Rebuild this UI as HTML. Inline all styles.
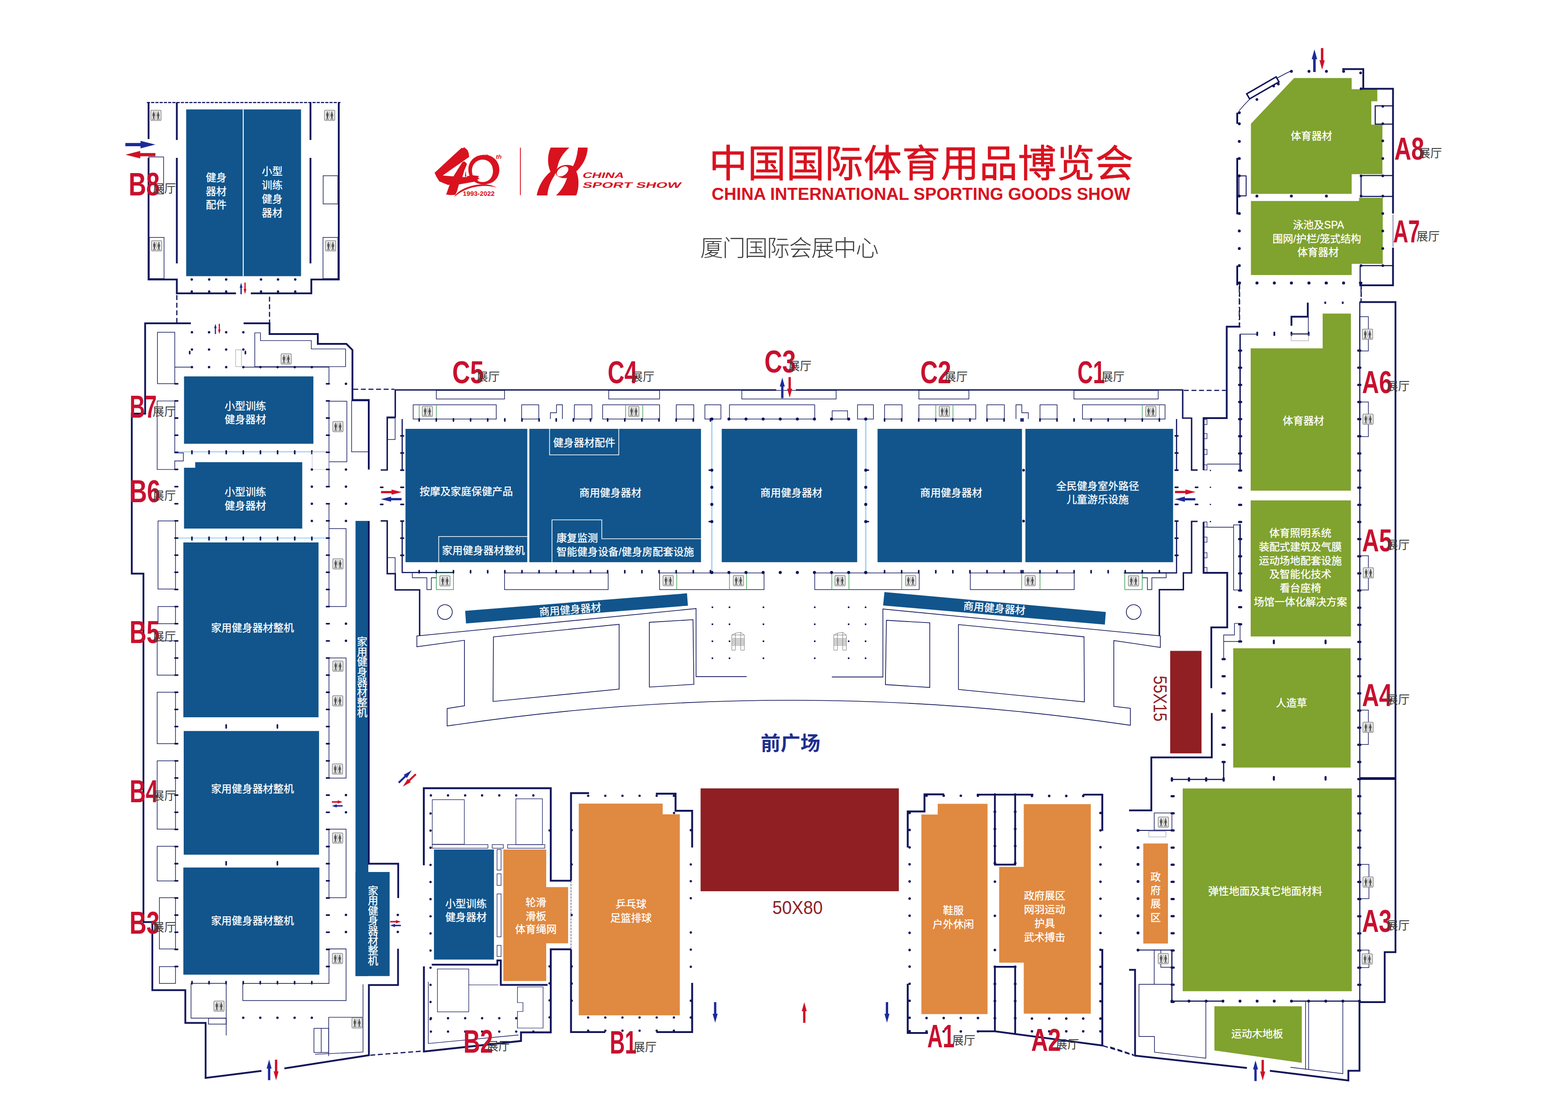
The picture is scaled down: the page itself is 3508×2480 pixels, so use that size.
<!DOCTYPE html>
<html><head><meta charset="utf-8"><title>Floor plan</title>
<style>html,body{margin:0;padding:0;background:#fff}svg{display:block}text{font-family:"Liberation Sans","Noto Sans CJK SC",sans-serif}.w{font-size:23.2px;fill:#fff;stroke:#fff;stroke-width:.37px}.h{font-weight:700;fill:#c8102e}.t{font-size:26px;fill:#3c3c3c}</style></head>
<body><svg width="3508" height="2480" viewBox="0 0 3508 2480">
<defs>
<g id="wc"><rect x="-11.5" y="-11.5" width="23" height="23" rx="2.5" fill="#e9e9e9" stroke="#8a8a8a" stroke-width="1.5"/><path d="M0 -8.5V6" stroke="#8a8a8a" stroke-width="1"/><g fill="#575757"><circle cx="-5" cy="-7" r="1.5"/><path d="M-7.6 -5h5.2v7h-1.1v5h-3v-5h-1.1z"/><circle cx="5" cy="-7" r="1.5"/><path d="M3.2 -5h3.6l1.4 6.8h-1.6v5.2h-3.2v-5.2h-1.6z"/><rect x="-8.5" y="7.8" width="7" height="1.4"/><rect x="1.5" y="7.8" width="7" height="1.4"/></g></g>
<path id="arR" d="M0 -3.6H34V-8.4L67 0L34 8.4V3.6H0Z"/>
<path id="arS" d="M0 -1.6H13V-3.6L24 0L13 3.6V1.6H0Z"/>
<path id="arV" d="M-2.6 0V-26H-5.6L0 -46L5.6 -26H2.6V0Z"/>

</defs>
<rect width="3508" height="2480" fill="#fff"/>
<rect x="416.5" y="244.7" width="257" height="372.9" fill="#11558c"/>
<rect x="543.1" y="244.7" width="2.1" height="372.9" fill="#fff"/>
<rect x="411.7" y="841.7" width="289.4" height="150.7" fill="#11558c"/>
<polygon points="436.7,1033.4 676.2,1033.4 676.2,1182.1 411.7,1182.1 411.7,1046 436.7,1046" fill="#11558c"/>
<rect x="410.2" y="1213" width="302.4" height="391" fill="#11558c"/>
<rect x="411" y="1634.7" width="302.8" height="276.6" fill="#11558c"/>
<rect x="410.2" y="1940" width="304.3" height="239.6" fill="#11558c"/>
<rect x="795.4" y="1164.9" width="28.6" height="1017.8" fill="#11558c"/>
<rect x="795.4" y="1950" width="76.3" height="232.7" fill="#11558c"/>
<rect x="907.2" y="959" width="272.5" height="298.2" fill="#11558c"/>
<rect x="1184.3" y="959" width="384" height="298.2" fill="#11558c"/>
<rect x="1614.7" y="959" width="303" height="298.2" fill="#11558c"/>
<rect x="1963.3" y="959" width="323.1" height="298.2" fill="#11558c"/>
<rect x="2294.1" y="959" width="330.4" height="298.2" fill="#11558c"/>
<polygon points="1040.7,1365.9 1537,1326.8 1539,1354.4 1042.6,1394.3" fill="#11558c"/>
<polygon points="1978.7,1324 2474,1368.4 2471.8,1396.7 1975.7,1354" fill="#11558c"/>
<rect x="970.9" y="1899.7" width="134.2" height="246.1" fill="#11558c"/>
<polygon points="2895.3,174.4 3024,174.4 3024,199.6 3081.4,199.6 3081.4,226.4 3068,226.4 3068,278.7 3092.8,278.7 3092.8,389.5 3024,389.5 3024,433.5 2798.6,433.5 2798.6,276.8" fill="#80a22e"/>
<polygon points="2798.6,449.5 3040.5,449.5 3040.5,442.3 3093.6,442.3 3093.6,590.1 3024,590.1 3024,615 2798.6,615" fill="#80a22e"/>
<polygon points="2959.1,701.3 3022.3,701.3 3022.3,1097.2 2798.1,1097.2 2798.1,779.1 2959.1,779.1" fill="#80a22e"/>
<rect x="2798.1" y="1119" width="224.2" height="304.3" fill="#80a22e"/>
<rect x="2759" y="1449.7" width="262.6" height="266.8" fill="#80a22e"/>
<rect x="2646" y="1763.2" width="378.3" height="453.4" fill="#80a22e"/>
<polygon points="2716.9,2250.2 2912.4,2250.2 2912.4,2376.7 2716.9,2349.1" fill="#80a22e"/>
<polygon points="1126.1,1899.7 1222,1899.7 1222,1983.7 1271,1983.7 1271,2109.4 1222,2109.4 1222,2193.7 1126.1,2193.7" fill="#e08940"/>
<polygon points="1294.8,1797.1 1482.6,1797.1 1482.6,1820.9 1520.9,1820.9 1520.9,2270.4 1294.8,2270.4" fill="#e08940"/>
<polygon points="2097.9,1797.5 2209.4,1797.5 2209.4,2267.8 2061.4,2267.8 2061.4,1821.6 2097.9,1821.6" fill="#e08940"/>
<polygon points="2290.4,1798.2 2440.4,1798.2 2440.4,2266.7 2290.4,2266.7 2290.4,2152.8 2235.4,2152.8 2235.4,1938.5 2290.4,1938.5" fill="#e08940"/>
<rect x="2557.8" y="1886.2" width="55.2" height="223.8" fill="#e08940"/>
<rect x="1567.4" y="1763" width="443.5" height="230" fill="#8f1f23"/>
<rect x="2618" y="1455.5" width="70.1" height="229.2" fill="#8f1f23"/>
<path d="M328.6 229.3L761.7 229.3" stroke="#10145a" stroke-width="2.6" stroke-dasharray="7 2.5" fill="none"/>
<path d="M332.4 229 L332.4 311" fill="none" stroke="#10145a" stroke-width="4.0" stroke-linejoin="miter" stroke-linecap="butt"/>
<path d="M332.4 353 L332.4 625 L395.6 625 L395.6 656 L527.9 656" fill="none" stroke="#10145a" stroke-width="4.0" stroke-linejoin="miter" stroke-linecap="butt"/>
<path d="M561.2 656 L696.5 656 L696.5 625 L757.9 625 L757.9 229" fill="none" stroke="#10145a" stroke-width="4.0" stroke-linejoin="miter" stroke-linecap="butt"/>
<path d="M395.6 229 L395.6 313" fill="none" stroke="#10145a" stroke-width="4.0" stroke-linejoin="miter" stroke-linecap="butt"/>
<path d="M395.6 353 L395.6 589" fill="none" stroke="#10145a" stroke-width="4.0" stroke-linejoin="miter" stroke-linecap="butt"/>
<path d="M694.6 229 L694.6 313" fill="none" stroke="#10145a" stroke-width="4.0" stroke-linejoin="miter" stroke-linecap="butt"/>
<path d="M694.6 353 L694.6 589" fill="none" stroke="#10145a" stroke-width="4.0" stroke-linejoin="miter" stroke-linecap="butt"/>
<rect x="333" y="351" width="33" height="82.6" fill="none" stroke="#10145a" stroke-width="1.4"/>
<rect x="334" y="531" width="33" height="92" fill="none" stroke="#10145a" stroke-width="1.4"/>
<rect x="723" y="393" width="33" height="63" fill="none" stroke="#10145a" stroke-width="1.4"/>
<rect x="722.6" y="531" width="33.4" height="92" fill="none" stroke="#10145a" stroke-width="1.4"/>
<use href="#wc" x="348.9" y="258"/>
<use href="#wc" x="737.5" y="258"/>
<use href="#wc" x="350.4" y="549.8"/>
<use href="#wc" x="739.8" y="549.8"/>
<circle cx="429" cy="625" r="2.7" fill="#10145a"/>
<circle cx="429" cy="652" r="2.7" fill="#10145a"/>
<circle cx="468" cy="625" r="2.7" fill="#10145a"/>
<circle cx="468" cy="652" r="2.7" fill="#10145a"/>
<circle cx="506" cy="625" r="2.7" fill="#10145a"/>
<circle cx="506" cy="652" r="2.7" fill="#10145a"/>
<circle cx="584" cy="625" r="2.7" fill="#10145a"/>
<circle cx="584" cy="652" r="2.7" fill="#10145a"/>
<circle cx="622" cy="625" r="2.7" fill="#10145a"/>
<circle cx="622" cy="652" r="2.7" fill="#10145a"/>
<circle cx="660.5" cy="625" r="2.7" fill="#10145a"/>
<circle cx="660.5" cy="652" r="2.7" fill="#10145a"/>
<use href="#arR" transform="translate(280.4,323.3) scale(1.0,1.0)" fill="#1c2b99"/>
<use href="#arR" transform="translate(347.7,345.9) scale(-1.0,1.0)" fill="#cf1126"/>
<use href="#arV" transform="translate(539.4,658) scale(0.56,0.56)" fill="#1c2b99"/>
<use href="#arV" transform="translate(548.2,632) scale(0.56,-0.56)" fill="#cf1126"/>
<path d="M395.6 660L395.6 723" stroke="#10145a" stroke-width="2.6" stroke-dasharray="11 6" fill="none"/>
<path d="M603 663.6L603 723" stroke="#10145a" stroke-width="2.6" stroke-dasharray="11 6" fill="none"/>
<path d="M427 723 L324.7 723 L324.7 925 L294.8 925 L294.8 1282.8 L320.9 1282.8 L320.9 2062 L340.8 2062 L340.8 2214.3 L414.6 2214.3 L414.6 2287.4 L460 2287.4 L460 2410.6 L585 2394.8" fill="none" stroke="#10145a" stroke-width="4.0" stroke-linejoin="miter" stroke-linecap="butt"/>
<path d="M636.3 2389.3 L825.3 2359.7 L825.3 2202.7 L890.5 2202.7 L890.5 2121.4" fill="none" stroke="#10145a" stroke-width="4.0" stroke-linejoin="miter" stroke-linecap="butt"/>
<path d="M890.9 2008.3 L890.9 1931.6 L825 1931.6 L825 1164.9" fill="none" stroke="#10145a" stroke-width="4.0" stroke-linejoin="miter" stroke-linecap="butt"/>
<path d="M545 723 L603 723 L603 747 L711 747 L711 769 L775 769 L788.5 782.7 L788.5 894.6 L825 894.6 L825 1049.9" fill="none" stroke="#10145a" stroke-width="4.0" stroke-linejoin="miter" stroke-linecap="butt"/>
<path d="M812.2 2201.2 L812.2 2352.7 L704.9 2357.6" fill="none" stroke="#10145a" stroke-width="1.4"/>
<path d="M828.4 2359.7L945.7 2350.5" stroke="#10145a" stroke-width="2.6" stroke-dasharray="11 6" fill="none"/>
<use href="#arV" transform="translate(481.9,747) scale(0.5,0.5)" fill="#1c2b99"/>
<use href="#arV" transform="translate(490.7,724) scale(0.5,-0.5)" fill="#cf1126"/>
<use href="#arV" transform="translate(602.1,2415.5) scale(1.0,1.0)" fill="#1c2b99"/>
<use href="#arV" transform="translate(617.7,2369.8) scale(1.0,-1.0)" fill="#cf1126"/>
<circle cx="429.4" cy="743" r="2.7" fill="#10145a"/>
<circle cx="429.4" cy="781.6" r="2.7" fill="#10145a"/>
<circle cx="429.4" cy="821" r="2.7" fill="#10145a"/>
<circle cx="467.7" cy="743" r="2.7" fill="#10145a"/>
<circle cx="467.7" cy="781.6" r="2.7" fill="#10145a"/>
<circle cx="467.7" cy="821" r="2.7" fill="#10145a"/>
<circle cx="506" cy="743" r="2.7" fill="#10145a"/>
<circle cx="506" cy="781.6" r="2.7" fill="#10145a"/>
<circle cx="506" cy="821" r="2.7" fill="#10145a"/>
<circle cx="544.4" cy="743" r="2.7" fill="#10145a"/>
<circle cx="544.4" cy="781.6" r="2.7" fill="#10145a"/>
<circle cx="544.4" cy="821" r="2.7" fill="#10145a"/>
<rect x="352.3" y="743" width="38.7" height="115" fill="none" stroke="#10145a" stroke-width="1.4"/>
<path d="M570 744.4 L582.7 744.4 L582.7 761.6 L696.5 761.6 L696.5 780.4 L773.2 780.4 L773.2 819.9 L570 819.9 Z" fill="none" stroke="#10145a" stroke-width="1.4"/>
<use href="#wc" x="640.2" y="802.7"/>
<path d="M391 821 L427 821" fill="none" stroke="#10145a" stroke-width="1.4"/>
<path d="M544.4 821 L736 821 L736 858.2" fill="none" stroke="#10145a" stroke-width="1.4"/>
<circle cx="582.7" cy="821" r="2.7" fill="#10145a"/>
<circle cx="621" cy="821" r="2.7" fill="#10145a"/>
<circle cx="659.4" cy="821" r="2.7" fill="#10145a"/>
<circle cx="697.7" cy="821" r="2.7" fill="#10145a"/>
<rect x="527.1" y="782.3" width="13" height="37.6" fill="none" stroke="#999" stroke-width="1"/>
<path d="M424.4 786v5" stroke="#10145a" stroke-width="3.5" stroke-linecap="round"/>
<path d="M549 786v5" stroke="#10145a" stroke-width="3.5" stroke-linecap="round"/>
<path d="M395.6 1010.4 L733 1010.4" fill="none" stroke="#7cc4ee" stroke-width="1.6"/>
<path d="M429.4 1008.4v6" stroke="#10145a" stroke-width="3.6" stroke-linecap="round"/>
<path d="M467.7 1008.4v6" stroke="#10145a" stroke-width="3.6" stroke-linecap="round"/>
<path d="M506.1 1008.4v6" stroke="#10145a" stroke-width="3.6" stroke-linecap="round"/>
<path d="M544.4 1008.4v6" stroke="#10145a" stroke-width="3.6" stroke-linecap="round"/>
<path d="M582.7 1008.4v6" stroke="#10145a" stroke-width="3.6" stroke-linecap="round"/>
<path d="M621 1008.4v6" stroke="#10145a" stroke-width="3.6" stroke-linecap="round"/>
<path d="M659.4 1008.4v6" stroke="#10145a" stroke-width="3.6" stroke-linecap="round"/>
<path d="M697.7 1008.4v6" stroke="#10145a" stroke-width="3.6" stroke-linecap="round"/>
<path d="M395.6 1203.2 L733 1203.2" fill="none" stroke="#7cc4ee" stroke-width="1.6"/>
<path d="M429.4 1201.2v6" stroke="#10145a" stroke-width="3.6" stroke-linecap="round"/>
<path d="M467.7 1201.2v6" stroke="#10145a" stroke-width="3.6" stroke-linecap="round"/>
<path d="M506.1 1201.2v6" stroke="#10145a" stroke-width="3.6" stroke-linecap="round"/>
<path d="M544.4 1201.2v6" stroke="#10145a" stroke-width="3.6" stroke-linecap="round"/>
<path d="M582.7 1201.2v6" stroke="#10145a" stroke-width="3.6" stroke-linecap="round"/>
<path d="M621 1201.2v6" stroke="#10145a" stroke-width="3.6" stroke-linecap="round"/>
<path d="M659.4 1201.2v6" stroke="#10145a" stroke-width="3.6" stroke-linecap="round"/>
<path d="M697.7 1201.2v6" stroke="#10145a" stroke-width="3.6" stroke-linecap="round"/>
<path d="M351.6 896.6 L391 896.6 L391 1012.7 L410.2 1012.7 L410.2 1030.7 L391 1030.7 L391 1049.9 L351.6 1049.9 Z" fill="none" stroke="#10145a" stroke-width="1.4"/>
<rect x="353.5" y="1164.9" width="39.1" height="152.4" fill="none" stroke="#10145a" stroke-width="1.4"/>
<rect x="353.5" y="1356.4" width="39.1" height="38.3" fill="none" stroke="#10145a" stroke-width="1.4"/>
<rect x="351.6" y="1433" width="41" height="76.7" fill="none" stroke="#10145a" stroke-width="1.4"/>
<rect x="351.6" y="1548" width="41" height="115" fill="none" stroke="#10145a" stroke-width="1.4"/>
<rect x="351.6" y="1701.4" width="41" height="152.8" fill="none" stroke="#10145a" stroke-width="1.4"/>
<rect x="351.6" y="1892.5" width="41" height="77.5" fill="none" stroke="#10145a" stroke-width="1.4"/>
<rect x="356.6" y="2007.5" width="36" height="114.6" fill="none" stroke="#10145a" stroke-width="1.4"/>
<rect x="356.6" y="2161.6" width="36" height="37.6" fill="none" stroke="#10145a" stroke-width="1.4"/>
<path d="M391.5 858.2h6" stroke="#10145a" stroke-width="3.6" stroke-linecap="round"/>
<path d="M391.5 896.5h6" stroke="#10145a" stroke-width="3.6" stroke-linecap="round"/>
<path d="M391.5 934.9h6" stroke="#10145a" stroke-width="3.6" stroke-linecap="round"/>
<path d="M391.5 973.2h6" stroke="#10145a" stroke-width="3.6" stroke-linecap="round"/>
<path d="M391.5 1011.5h6" stroke="#10145a" stroke-width="3.6" stroke-linecap="round"/>
<path d="M391.5 1049.8h6" stroke="#10145a" stroke-width="3.6" stroke-linecap="round"/>
<path d="M391.5 1088.2h6" stroke="#10145a" stroke-width="3.6" stroke-linecap="round"/>
<path d="M391.5 1126.5h6" stroke="#10145a" stroke-width="3.6" stroke-linecap="round"/>
<path d="M391.5 1164.8h6" stroke="#10145a" stroke-width="3.6" stroke-linecap="round"/>
<path d="M391.5 1203.2h6" stroke="#10145a" stroke-width="3.6" stroke-linecap="round"/>
<path d="M391.5 1241.5h6" stroke="#10145a" stroke-width="3.6" stroke-linecap="round"/>
<path d="M391.5 1279.8h6" stroke="#10145a" stroke-width="3.6" stroke-linecap="round"/>
<path d="M391.5 1318.2h6" stroke="#10145a" stroke-width="3.6" stroke-linecap="round"/>
<path d="M391.5 1356.5h6" stroke="#10145a" stroke-width="3.6" stroke-linecap="round"/>
<path d="M391.5 1394.8h6" stroke="#10145a" stroke-width="3.6" stroke-linecap="round"/>
<path d="M391.5 1433.2h6" stroke="#10145a" stroke-width="3.6" stroke-linecap="round"/>
<path d="M391.5 1471.5h6" stroke="#10145a" stroke-width="3.6" stroke-linecap="round"/>
<path d="M391.5 1509.8h6" stroke="#10145a" stroke-width="3.6" stroke-linecap="round"/>
<path d="M391.5 1548.1h6" stroke="#10145a" stroke-width="3.6" stroke-linecap="round"/>
<path d="M391.5 1586.5h6" stroke="#10145a" stroke-width="3.6" stroke-linecap="round"/>
<path d="M391.5 1624.8h6" stroke="#10145a" stroke-width="3.6" stroke-linecap="round"/>
<path d="M391.5 1663.1h6" stroke="#10145a" stroke-width="3.6" stroke-linecap="round"/>
<path d="M391.5 1701.5h6" stroke="#10145a" stroke-width="3.6" stroke-linecap="round"/>
<path d="M391.5 1739.8h6" stroke="#10145a" stroke-width="3.6" stroke-linecap="round"/>
<path d="M391.5 1778.1h6" stroke="#10145a" stroke-width="3.6" stroke-linecap="round"/>
<path d="M391.5 1816.5h6" stroke="#10145a" stroke-width="3.6" stroke-linecap="round"/>
<path d="M391.5 1854.8h6" stroke="#10145a" stroke-width="3.6" stroke-linecap="round"/>
<path d="M391.5 1893.1h6" stroke="#10145a" stroke-width="3.6" stroke-linecap="round"/>
<path d="M391.5 1931.4h6" stroke="#10145a" stroke-width="3.6" stroke-linecap="round"/>
<path d="M391.5 1969.8h6" stroke="#10145a" stroke-width="3.6" stroke-linecap="round"/>
<path d="M391.5 2008.1h6" stroke="#10145a" stroke-width="3.6" stroke-linecap="round"/>
<path d="M391.5 2046.4h6" stroke="#10145a" stroke-width="3.6" stroke-linecap="round"/>
<path d="M391.5 2084.8h6" stroke="#10145a" stroke-width="3.6" stroke-linecap="round"/>
<path d="M391.5 2123.1h6" stroke="#10145a" stroke-width="3.6" stroke-linecap="round"/>
<path d="M391.5 2161.4h6" stroke="#10145a" stroke-width="3.6" stroke-linecap="round"/>
<rect x="736" y="897.3" width="40" height="135.3" fill="none" stroke="#10145a" stroke-width="1.4"/>
<use href="#wc" x="756" y="954"/>
<rect x="736" y="1182.1" width="38.3" height="174.3" fill="none" stroke="#10145a" stroke-width="1.4"/>
<use href="#wc" x="756" y="1261"/>
<rect x="736" y="1471.4" width="38.3" height="268.6" fill="none" stroke="#10145a" stroke-width="1.4"/>
<use href="#wc" x="756" y="1489.8"/>
<use href="#wc" x="755.5" y="1567.2"/>
<use href="#wc" x="755" y="1719.8"/>
<rect x="736" y="1854.2" width="38.3" height="153.3" fill="none" stroke="#10145a" stroke-width="1.4"/>
<use href="#wc" x="755.4" y="1874"/>
<path d="M736 2122 L774.3 2122 L774.3 2237.5 L543.2 2237.5 L543.2 2199.2 L736 2199.2 Z" fill="none" stroke="#10145a" stroke-width="1.4"/>
<use href="#wc" x="755" y="2143.6"/>
<path d="M736 1032 L736 1088" fill="none" stroke="#10145a" stroke-width="1.4"/>
<path d="M736 1126.5 L736 1182" fill="none" stroke="#10145a" stroke-width="1.4"/>
<rect x="698.4" y="1010.4" width="37.6" height="39.5" fill="none" stroke="#c9b3d9" stroke-width="1"/>
<path d="M730.5 858.2h6" stroke="#10145a" stroke-width="3.6" stroke-linecap="round"/>
<path d="M730.5 896.5h6" stroke="#10145a" stroke-width="3.6" stroke-linecap="round"/>
<path d="M730.5 934.9h6" stroke="#10145a" stroke-width="3.6" stroke-linecap="round"/>
<path d="M730.5 973.2h6" stroke="#10145a" stroke-width="3.6" stroke-linecap="round"/>
<path d="M730.5 1011.5h6" stroke="#10145a" stroke-width="3.6" stroke-linecap="round"/>
<path d="M730.5 1049.8h6" stroke="#10145a" stroke-width="3.6" stroke-linecap="round"/>
<path d="M730.5 1088.2h6" stroke="#10145a" stroke-width="3.6" stroke-linecap="round"/>
<path d="M730.5 1126.5h6" stroke="#10145a" stroke-width="3.6" stroke-linecap="round"/>
<path d="M730.5 1164.8h6" stroke="#10145a" stroke-width="3.6" stroke-linecap="round"/>
<path d="M730.5 1203.2h6" stroke="#10145a" stroke-width="3.6" stroke-linecap="round"/>
<path d="M730.5 1241.5h6" stroke="#10145a" stroke-width="3.6" stroke-linecap="round"/>
<path d="M730.5 1279.8h6" stroke="#10145a" stroke-width="3.6" stroke-linecap="round"/>
<path d="M730.5 1318.2h6" stroke="#10145a" stroke-width="3.6" stroke-linecap="round"/>
<path d="M730.5 1356.5h6" stroke="#10145a" stroke-width="3.6" stroke-linecap="round"/>
<path d="M730.5 1394.8h6" stroke="#10145a" stroke-width="3.6" stroke-linecap="round"/>
<path d="M730.5 1433.2h6" stroke="#10145a" stroke-width="3.6" stroke-linecap="round"/>
<path d="M730.5 1471.5h6" stroke="#10145a" stroke-width="3.6" stroke-linecap="round"/>
<path d="M730.5 1509.8h6" stroke="#10145a" stroke-width="3.6" stroke-linecap="round"/>
<path d="M730.5 1548.1h6" stroke="#10145a" stroke-width="3.6" stroke-linecap="round"/>
<path d="M730.5 1586.5h6" stroke="#10145a" stroke-width="3.6" stroke-linecap="round"/>
<path d="M730.5 1624.8h6" stroke="#10145a" stroke-width="3.6" stroke-linecap="round"/>
<path d="M730.5 1663.1h6" stroke="#10145a" stroke-width="3.6" stroke-linecap="round"/>
<path d="M730.5 1701.5h6" stroke="#10145a" stroke-width="3.6" stroke-linecap="round"/>
<path d="M730.5 1739.8h6" stroke="#10145a" stroke-width="3.6" stroke-linecap="round"/>
<path d="M730.5 1778.1h6" stroke="#10145a" stroke-width="3.6" stroke-linecap="round"/>
<path d="M730.5 1816.5h6" stroke="#10145a" stroke-width="3.6" stroke-linecap="round"/>
<path d="M730.5 1854.8h6" stroke="#10145a" stroke-width="3.6" stroke-linecap="round"/>
<path d="M730.5 1893.1h6" stroke="#10145a" stroke-width="3.6" stroke-linecap="round"/>
<path d="M730.5 1931.4h6" stroke="#10145a" stroke-width="3.6" stroke-linecap="round"/>
<path d="M730.5 1969.8h6" stroke="#10145a" stroke-width="3.6" stroke-linecap="round"/>
<path d="M730.5 2008.1h6" stroke="#10145a" stroke-width="3.6" stroke-linecap="round"/>
<path d="M730.5 2046.4h6" stroke="#10145a" stroke-width="3.6" stroke-linecap="round"/>
<path d="M730.5 2084.8h6" stroke="#10145a" stroke-width="3.6" stroke-linecap="round"/>
<path d="M730.5 2123.1h6" stroke="#10145a" stroke-width="3.6" stroke-linecap="round"/>
<path d="M730.5 2161.4h6" stroke="#10145a" stroke-width="3.6" stroke-linecap="round"/>
<circle cx="774" cy="858.2" r="2.7" fill="#10145a"/>
<circle cx="774" cy="1049.9" r="2.7" fill="#10145a"/>
<circle cx="774" cy="1088.2" r="2.7" fill="#10145a"/>
<circle cx="774" cy="1126.5" r="2.7" fill="#10145a"/>
<circle cx="774" cy="1164.9" r="2.7" fill="#10145a"/>
<circle cx="774" cy="1394.7" r="2.7" fill="#10145a"/>
<circle cx="774" cy="1433" r="2.7" fill="#10145a"/>
<circle cx="774" cy="1778" r="2.7" fill="#10145a"/>
<circle cx="774" cy="1816.4" r="2.7" fill="#10145a"/>
<circle cx="774" cy="2045.9" r="2.7" fill="#10145a"/>
<circle cx="774" cy="2084.2" r="2.7" fill="#10145a"/>
<circle cx="697.7" cy="1049.9" r="2.7" fill="#10145a"/>
<circle cx="697.7" cy="1088.2" r="2.7" fill="#10145a"/>
<circle cx="697.7" cy="1126.5" r="2.7" fill="#10145a"/>
<circle cx="697.7" cy="1164.9" r="2.7" fill="#10145a"/>
<path d="M506 1621v7" stroke="#10145a" stroke-width="3.6" stroke-linecap="round"/>
<path d="M506 1927v7" stroke="#10145a" stroke-width="3.6" stroke-linecap="round"/>
<path d="M620.6 1621v7" stroke="#10145a" stroke-width="3.6" stroke-linecap="round"/>
<path d="M620.6 1927v7" stroke="#10145a" stroke-width="3.6" stroke-linecap="round"/>
<rect x="786.6" y="896.5" width="38.4" height="113.9" fill="none" stroke="#10145a" stroke-width="1.4"/>
<path d="M506.1 2315.5 L506.1 2199 L427.4 2199 L427.4 2276.8 L506.1 2276.8" fill="none" stroke="#10145a" stroke-width="1.4"/>
<rect x="466.5" y="2276.8" width="39.6" height="13.4" fill="none" stroke="#10145a" stroke-width="1.4"/>
<use href="#wc" x="490" y="2249.9"/>
<path d="M429.6 2195v5" stroke="#10145a" stroke-width="3.6" stroke-linecap="round"/>
<path d="M467.7 2195v5" stroke="#10145a" stroke-width="3.6" stroke-linecap="round"/>
<path d="M505.8 2195v5" stroke="#10145a" stroke-width="3.6" stroke-linecap="round"/>
<path d="M544.2 2195v5" stroke="#10145a" stroke-width="3.6" stroke-linecap="round"/>
<path d="M582.3 2195v5" stroke="#10145a" stroke-width="3.6" stroke-linecap="round"/>
<path d="M620.7 2195v5" stroke="#10145a" stroke-width="3.6" stroke-linecap="round"/>
<path d="M659.1 2195v5" stroke="#10145a" stroke-width="3.6" stroke-linecap="round"/>
<path d="M697.6 2195v5" stroke="#10145a" stroke-width="3.6" stroke-linecap="round"/>
<circle cx="544.2" cy="2275.9" r="2.7" fill="#10145a"/>
<circle cx="582.3" cy="2275.9" r="2.7" fill="#10145a"/>
<circle cx="620.7" cy="2275.9" r="2.7" fill="#10145a"/>
<circle cx="659.1" cy="2275.9" r="2.7" fill="#10145a"/>
<circle cx="697.6" cy="2275.9" r="2.7" fill="#10145a"/>
<path d="M811 2274.9 L735.4 2274.9 L735.4 2361.8" fill="none" stroke="#10145a" stroke-width="1.4"/>
<use href="#wc" x="798.8" y="2287.4"/>
<rect x="702.4" y="2299.6" width="33" height="54" fill="none" stroke="#10145a" stroke-width="1.4"/>
<path d="M718.6 2299.6 L718.6 2353.6" fill="none" stroke="#10145a" stroke-width="1.4"/>
<use href="#arR" transform="translate(852.5,1100.5) scale(0.69,0.69)" fill="#cf1126"/>
<use href="#arR" transform="translate(898.5,1116.2) scale(-0.69,0.69)" fill="#1c2b99"/>
<use href="#arS" transform="translate(742.5,1793.4) scale(1.0,1.0)" fill="#cf1126"/>
<use href="#arS" transform="translate(766.5,1802.2) scale(-1.0,1.0)" fill="#1c2b99"/>
<use href="#arS" transform="translate(872.8,2061.2) scale(1.0,1.0)" fill="#cf1126"/>
<use href="#arS" transform="translate(896.8,2069.6) scale(-1.0,1.0)" fill="#1c2b99"/>
<use href="#arR" transform="translate(892,1750.4) rotate(-43.7) scale(0.6,0.6)" fill="#1c2b99"/>
<use href="#arR" transform="translate(930.3,1731.3) rotate(136.3) scale(0.6,0.6)" fill="#cf1126"/>
<circle cx="890" cy="2046" r="2.7" fill="#10145a"/>
<circle cx="890" cy="2084" r="2.7" fill="#10145a"/>
<path d="M1736.4 872 L884.3 872 L884.3 933 L866.3 933 L866.3 1051 L851.7 1051" fill="none" stroke="#10145a" stroke-width="3.2" stroke-linejoin="miter" stroke-linecap="butt"/>
<path d="M851.7 1164.9 L866.3 1164.9 L866.3 1282.8 L884.3 1282.8 L884.3 1319.2 L938.8 1319.2 L938.8 1421" fill="none" stroke="#10145a" stroke-width="3.2" stroke-linejoin="miter" stroke-linecap="butt"/>
<path d="M1780.5 872 L2646 872 L2646 935 L2665.9 935 L2665.9 1051.2 L2679.3 1051.2" fill="none" stroke="#10145a" stroke-width="3.2" stroke-linejoin="miter" stroke-linecap="butt"/>
<path d="M2679.3 1166 L2665.9 1166 L2665.9 1281.1 L2647.5 1281.1 L2647.5 1318.6 L2593.8 1318.6 L2593.8 1421" fill="none" stroke="#10145a" stroke-width="3.2" stroke-linejoin="miter" stroke-linecap="butt"/>
<path d="M790.4 870.5L882.4 870.5" stroke="#10145a" stroke-width="2.6" stroke-dasharray="11 6" fill="none"/>
<path d="M2648.6 873L2742.5 873" stroke="#10145a" stroke-width="2.6" stroke-dasharray="11 6" fill="none"/>
<rect x="867" y="935" width="17" height="47.8" fill="none" stroke="#10145a" stroke-width="1.4"/>
<rect x="867" y="1247" width="17" height="35.8" fill="none" stroke="#10145a" stroke-width="1.4"/>
<path d="M899.8 937.1 L899.8 1051.4" fill="none" stroke="#10145a" stroke-width="2.6" stroke-linejoin="miter" stroke-linecap="butt"/>
<path d="M899.8 1165.2 L899.8 1280.2 L1014.5 1280.2" fill="none" stroke="#10145a" stroke-width="2.6" stroke-linejoin="miter" stroke-linecap="butt"/>
<path d="M2632.2 937 L2632.2 1051.2" fill="none" stroke="#10145a" stroke-width="2.6" stroke-linejoin="miter" stroke-linecap="butt"/>
<path d="M2632.2 1165 L2632.2 1281.1 L2516.4 1281.1" fill="none" stroke="#10145a" stroke-width="2.6" stroke-linejoin="miter" stroke-linecap="butt"/>
<path d="M896.8 974.7h6" stroke="#10145a" stroke-width="3.6" stroke-linecap="round"/>
<path d="M2629.2 974.7h6" stroke="#10145a" stroke-width="3.6" stroke-linecap="round"/>
<path d="M896.8 1013h6" stroke="#10145a" stroke-width="3.6" stroke-linecap="round"/>
<path d="M2629.2 1013h6" stroke="#10145a" stroke-width="3.6" stroke-linecap="round"/>
<path d="M896.8 1051.4h6" stroke="#10145a" stroke-width="3.6" stroke-linecap="round"/>
<path d="M2629.2 1051.4h6" stroke="#10145a" stroke-width="3.6" stroke-linecap="round"/>
<path d="M896.8 1089.7h6" stroke="#10145a" stroke-width="3.6" stroke-linecap="round"/>
<path d="M2629.2 1089.7h6" stroke="#10145a" stroke-width="3.6" stroke-linecap="round"/>
<path d="M896.8 1128h6" stroke="#10145a" stroke-width="3.6" stroke-linecap="round"/>
<path d="M2629.2 1128h6" stroke="#10145a" stroke-width="3.6" stroke-linecap="round"/>
<path d="M896.8 1165.2h6" stroke="#10145a" stroke-width="3.6" stroke-linecap="round"/>
<path d="M2629.2 1165.2h6" stroke="#10145a" stroke-width="3.6" stroke-linecap="round"/>
<path d="M896.8 1203.5h6" stroke="#10145a" stroke-width="3.6" stroke-linecap="round"/>
<path d="M2629.2 1203.5h6" stroke="#10145a" stroke-width="3.6" stroke-linecap="round"/>
<path d="M896.8 1241.9h6" stroke="#10145a" stroke-width="3.6" stroke-linecap="round"/>
<path d="M2629.2 1241.9h6" stroke="#10145a" stroke-width="3.6" stroke-linecap="round"/>
<path d="M851.5 1089.7h5" stroke="#10145a" stroke-width="3.6" stroke-linecap="round"/>
<path d="M851.5 1128h5" stroke="#10145a" stroke-width="3.6" stroke-linecap="round"/>
<path d="M2674.5 1089.7h5" stroke="#10145a" stroke-width="3.6" stroke-linecap="round"/>
<path d="M2674.5 1128h5" stroke="#10145a" stroke-width="3.6" stroke-linecap="round"/>
<rect x="976.2" y="873" width="152.5" height="19.3" fill="none" stroke="#10145a" stroke-width="1.4"/>
<rect x="1361.8" y="873" width="113.8" height="19.3" fill="none" stroke="#10145a" stroke-width="1.4"/>
<rect x="1659.6" y="873" width="211" height="19.3" fill="none" stroke="#10145a" stroke-width="1.4"/>
<rect x="2055.7" y="873" width="111.9" height="19.3" fill="none" stroke="#10145a" stroke-width="1.4"/>
<rect x="2402.6" y="873" width="188.6" height="19.3" fill="none" stroke="#10145a" stroke-width="1.4"/>
<rect x="924.4" y="905.3" width="185.9" height="31.8" fill="none" stroke="#10145a" stroke-width="1.4"/>
<path d="M937.8 905.3 L937.8 937.1" fill="none" stroke="#2e9a46" stroke-width="1.3"/>
<path d="M976.2 905.3 L976.2 937.1" fill="none" stroke="#2e9a46" stroke-width="1.3"/>
<rect x="1167" y="905.3" width="38.4" height="31.8" fill="none" stroke="#10145a" stroke-width="1.4"/>
<rect x="1285" y="905.3" width="39.2" height="31.8" fill="none" stroke="#10145a" stroke-width="1.4"/>
<rect x="1348.3" y="905.3" width="127.3" height="31.8" fill="none" stroke="#10145a" stroke-width="1.4"/>
<path d="M1399.7 905.3 L1399.7 937.1" fill="none" stroke="#2e9a46" stroke-width="1.3"/>
<path d="M1438 905.3 L1438 937.1" fill="none" stroke="#2e9a46" stroke-width="1.3"/>
<rect x="1513" y="905.3" width="39.2" height="31.8" fill="none" stroke="#10145a" stroke-width="1.4"/>
<rect x="1577" y="905.3" width="35.8" height="31.8" fill="none" stroke="#10145a" stroke-width="1.4"/>
<rect x="1632" y="905.3" width="190.7" height="31.8" fill="none" stroke="#10145a" stroke-width="1.4"/>
<rect x="1918.5" y="905.3" width="35.6" height="31.8" fill="none" stroke="#10145a" stroke-width="1.4"/>
<rect x="1979" y="905.3" width="39.1" height="31.8" fill="none" stroke="#10145a" stroke-width="1.4"/>
<rect x="2055.7" y="905.3" width="127.3" height="31.8" fill="none" stroke="#10145a" stroke-width="1.4"/>
<path d="M2093.6 905.3 L2093.6 937.1" fill="none" stroke="#2e9a46" stroke-width="1.3"/>
<path d="M2132 905.3 L2132 937.1" fill="none" stroke="#2e9a46" stroke-width="1.3"/>
<rect x="2207.9" y="905.3" width="39.1" height="31.8" fill="none" stroke="#10145a" stroke-width="1.4"/>
<rect x="2326.7" y="905.3" width="38.3" height="31.8" fill="none" stroke="#10145a" stroke-width="1.4"/>
<rect x="2421.7" y="905.3" width="184.8" height="31.8" fill="none" stroke="#10145a" stroke-width="1.4"/>
<path d="M2555.5 905.3 L2555.5 937.1" fill="none" stroke="#2e9a46" stroke-width="1.3"/>
<path d="M2593.8 905.3 L2593.8 937.1" fill="none" stroke="#2e9a46" stroke-width="1.3"/>
<rect x="1861.7" y="918.7" width="34.5" height="18.4" fill="none" stroke="#10145a" stroke-width="1.4"/>
<path d="M1231.4 937.1 L1231.4 923 L1245 923 L1245 905.3 L1258.3 905.3 L1258.3 937.1" fill="none" stroke="#10145a" stroke-width="1.4"/>
<path d="M2273 937.1 L2273 905.3 L2286 905.3 L2286 923 L2300.6 923 L2300.6 937.1" fill="none" stroke="#10145a" stroke-width="1.4"/>
<use href="#wc" x="956.2" y="920"/>
<use href="#wc" x="1418" y="920"/>
<use href="#wc" x="2112.8" y="920"/>
<use href="#wc" x="2574.7" y="920"/>
<rect x="1128.7" y="1281.3" width="231.9" height="37.2" fill="none" stroke="#10145a" stroke-width="1.4"/>
<rect x="1475.6" y="1281.3" width="233.8" height="37.2" fill="none" stroke="#10145a" stroke-width="1.4"/>
<path d="M1514 1281.3 L1514 1318.5" fill="none" stroke="#2e9a46" stroke-width="1.3"/>
<path d="M1632 1281.3 L1632 1318.5" fill="none" stroke="#2e9a46" stroke-width="1.3"/>
<path d="M1670.3 1281.3 L1670.3 1318.5" fill="none" stroke="#2e9a46" stroke-width="1.3"/>
<rect x="1822.7" y="1281.3" width="233.8" height="37.2" fill="none" stroke="#10145a" stroke-width="1.4"/>
<path d="M1861 1281.3 L1861 1318.5" fill="none" stroke="#2e9a46" stroke-width="1.3"/>
<path d="M1899.3 1281.3 L1899.3 1318.5" fill="none" stroke="#2e9a46" stroke-width="1.3"/>
<path d="M2017.4 1281.3 L2017.4 1318.5" fill="none" stroke="#2e9a46" stroke-width="1.3"/>
<rect x="2170.7" y="1281.3" width="232.6" height="37.2" fill="none" stroke="#10145a" stroke-width="1.4"/>
<path d="M2285.7 1281.3 L2285.7 1318.5" fill="none" stroke="#2e9a46" stroke-width="1.3"/>
<path d="M2326.7 1281.3 L2326.7 1318.5" fill="none" stroke="#2e9a46" stroke-width="1.3"/>
<rect x="976.2" y="1281.3" width="38.3" height="37.2" fill="none" stroke="#2e9a46" stroke-width="1.4"/>
<rect x="2516.4" y="1281.3" width="39.1" height="37.2" fill="none" stroke="#2e9a46" stroke-width="1.4"/>
<use href="#wc" x="995.4" y="1299"/>
<use href="#wc" x="1494.8" y="1298.5"/>
<use href="#wc" x="1652" y="1298.5"/>
<use href="#wc" x="1879.4" y="1298.5"/>
<use href="#wc" x="2037.3" y="1298.5"/>
<use href="#wc" x="2304.8" y="1298.5"/>
<use href="#wc" x="2536" y="1299"/>
<path d="M922.5 1281.3 L922.5 1292 L955 1292 L955 1318.5 L965 1318.5 L965 1292 L976 1292" fill="none" stroke="#10145a" stroke-width="1.4"/>
<path d="M2609 1281.3 L2609 1292 L2577 1292 L2577 1318.5 L2567 1318.5 L2567 1292 L2556 1292" fill="none" stroke="#10145a" stroke-width="1.4"/>
<path d="M937.8 936.5v5" stroke="#10145a" stroke-width="3.6" stroke-linecap="round"/>
<path d="M937.8 1276v5" stroke="#10145a" stroke-width="3.6" stroke-linecap="round"/>
<path d="M976.1 936.5v5" stroke="#10145a" stroke-width="3.6" stroke-linecap="round"/>
<path d="M976.1 1276v5" stroke="#10145a" stroke-width="3.6" stroke-linecap="round"/>
<path d="M1014.5 936.5v5" stroke="#10145a" stroke-width="3.6" stroke-linecap="round"/>
<path d="M1014.5 1276v5" stroke="#10145a" stroke-width="3.6" stroke-linecap="round"/>
<path d="M1052.8 936.5v5" stroke="#10145a" stroke-width="3.6" stroke-linecap="round"/>
<path d="M1052.8 1276v5" stroke="#10145a" stroke-width="3.6" stroke-linecap="round"/>
<path d="M1091.1 936.5v5" stroke="#10145a" stroke-width="3.6" stroke-linecap="round"/>
<path d="M1091.1 1276v5" stroke="#10145a" stroke-width="3.6" stroke-linecap="round"/>
<path d="M1129.4 936.5v5" stroke="#10145a" stroke-width="3.6" stroke-linecap="round"/>
<path d="M1129.4 1276v5" stroke="#10145a" stroke-width="3.6" stroke-linecap="round"/>
<path d="M1167.8 936.5v5" stroke="#10145a" stroke-width="3.6" stroke-linecap="round"/>
<path d="M1167.8 1276v5" stroke="#10145a" stroke-width="3.6" stroke-linecap="round"/>
<path d="M1206.1 936.5v5" stroke="#10145a" stroke-width="3.6" stroke-linecap="round"/>
<path d="M1206.1 1276v5" stroke="#10145a" stroke-width="3.6" stroke-linecap="round"/>
<path d="M1244.4 936.5v5" stroke="#10145a" stroke-width="3.6" stroke-linecap="round"/>
<path d="M1244.4 1276v5" stroke="#10145a" stroke-width="3.6" stroke-linecap="round"/>
<path d="M1282.8 936.5v5" stroke="#10145a" stroke-width="3.6" stroke-linecap="round"/>
<path d="M1282.8 1276v5" stroke="#10145a" stroke-width="3.6" stroke-linecap="round"/>
<path d="M1321.1 936.5v5" stroke="#10145a" stroke-width="3.6" stroke-linecap="round"/>
<path d="M1321.1 1276v5" stroke="#10145a" stroke-width="3.6" stroke-linecap="round"/>
<path d="M1359.4 936.5v5" stroke="#10145a" stroke-width="3.6" stroke-linecap="round"/>
<path d="M1359.4 1276v5" stroke="#10145a" stroke-width="3.6" stroke-linecap="round"/>
<path d="M1397.8 936.5v5" stroke="#10145a" stroke-width="3.6" stroke-linecap="round"/>
<path d="M1397.8 1276v5" stroke="#10145a" stroke-width="3.6" stroke-linecap="round"/>
<path d="M1436.1 936.5v5" stroke="#10145a" stroke-width="3.6" stroke-linecap="round"/>
<path d="M1436.1 1276v5" stroke="#10145a" stroke-width="3.6" stroke-linecap="round"/>
<path d="M1474.4 936.5v5" stroke="#10145a" stroke-width="3.6" stroke-linecap="round"/>
<path d="M1474.4 1276v5" stroke="#10145a" stroke-width="3.6" stroke-linecap="round"/>
<path d="M1512.8 936.5v5" stroke="#10145a" stroke-width="3.6" stroke-linecap="round"/>
<path d="M1512.8 1276v5" stroke="#10145a" stroke-width="3.6" stroke-linecap="round"/>
<path d="M1551.1 936.5v5" stroke="#10145a" stroke-width="3.6" stroke-linecap="round"/>
<path d="M1551.1 1276v5" stroke="#10145a" stroke-width="3.6" stroke-linecap="round"/>
<path d="M1589.4 936.5v5" stroke="#10145a" stroke-width="3.6" stroke-linecap="round"/>
<path d="M1589.4 1276v5" stroke="#10145a" stroke-width="3.6" stroke-linecap="round"/>
<circle cx="1592.5" cy="937.1" r="3.4" fill="#10145a"/>
<circle cx="1592.5" cy="1280.2" r="3.4" fill="#10145a"/>
<circle cx="1630.8" cy="937.1" r="3.4" fill="#10145a"/>
<circle cx="1630.8" cy="1280.2" r="3.4" fill="#10145a"/>
<circle cx="1669" cy="937.1" r="3.4" fill="#10145a"/>
<circle cx="1669" cy="1280.2" r="3.4" fill="#10145a"/>
<circle cx="1707.3" cy="937.1" r="3.4" fill="#10145a"/>
<circle cx="1707.3" cy="1280.2" r="3.4" fill="#10145a"/>
<circle cx="1745.6" cy="937.1" r="3.4" fill="#10145a"/>
<circle cx="1745.6" cy="1280.2" r="3.4" fill="#10145a"/>
<circle cx="1783.8" cy="937.1" r="3.4" fill="#10145a"/>
<circle cx="1783.8" cy="1280.2" r="3.4" fill="#10145a"/>
<circle cx="1822.1" cy="937.1" r="3.4" fill="#10145a"/>
<circle cx="1822.1" cy="1280.2" r="3.4" fill="#10145a"/>
<circle cx="1860.4" cy="937.1" r="3.4" fill="#10145a"/>
<circle cx="1860.4" cy="1280.2" r="3.4" fill="#10145a"/>
<circle cx="1898.7" cy="937.1" r="3.4" fill="#10145a"/>
<circle cx="1898.7" cy="1280.2" r="3.4" fill="#10145a"/>
<circle cx="1936.9" cy="937.1" r="3.4" fill="#10145a"/>
<circle cx="1936.9" cy="1280.2" r="3.4" fill="#10145a"/>
<path d="M1979 936.5v5" stroke="#10145a" stroke-width="3.6" stroke-linecap="round"/>
<path d="M1979 1276v5" stroke="#10145a" stroke-width="3.6" stroke-linecap="round"/>
<path d="M2017.2 936.5v5" stroke="#10145a" stroke-width="3.6" stroke-linecap="round"/>
<path d="M2017.2 1276v5" stroke="#10145a" stroke-width="3.6" stroke-linecap="round"/>
<path d="M2055.4 936.5v5" stroke="#10145a" stroke-width="3.6" stroke-linecap="round"/>
<path d="M2055.4 1276v5" stroke="#10145a" stroke-width="3.6" stroke-linecap="round"/>
<path d="M2093.6 936.5v5" stroke="#10145a" stroke-width="3.6" stroke-linecap="round"/>
<path d="M2093.6 1276v5" stroke="#10145a" stroke-width="3.6" stroke-linecap="round"/>
<path d="M2131.8 936.5v5" stroke="#10145a" stroke-width="3.6" stroke-linecap="round"/>
<path d="M2131.8 1276v5" stroke="#10145a" stroke-width="3.6" stroke-linecap="round"/>
<path d="M2170 936.5v5" stroke="#10145a" stroke-width="3.6" stroke-linecap="round"/>
<path d="M2170 1276v5" stroke="#10145a" stroke-width="3.6" stroke-linecap="round"/>
<path d="M2208.2 936.5v5" stroke="#10145a" stroke-width="3.6" stroke-linecap="round"/>
<path d="M2208.2 1276v5" stroke="#10145a" stroke-width="3.6" stroke-linecap="round"/>
<path d="M2246.4 936.5v5" stroke="#10145a" stroke-width="3.6" stroke-linecap="round"/>
<path d="M2246.4 1276v5" stroke="#10145a" stroke-width="3.6" stroke-linecap="round"/>
<path d="M2284.6 936.5v5" stroke="#10145a" stroke-width="3.6" stroke-linecap="round"/>
<path d="M2284.6 1276v5" stroke="#10145a" stroke-width="3.6" stroke-linecap="round"/>
<path d="M2288.5 936.5v5" stroke="#10145a" stroke-width="3.6" stroke-linecap="round"/>
<path d="M2288.5 1276v5" stroke="#10145a" stroke-width="3.6" stroke-linecap="round"/>
<path d="M2326.7 936.5v5" stroke="#10145a" stroke-width="3.6" stroke-linecap="round"/>
<path d="M2326.7 1276v5" stroke="#10145a" stroke-width="3.6" stroke-linecap="round"/>
<path d="M2364.8 936.5v5" stroke="#10145a" stroke-width="3.6" stroke-linecap="round"/>
<path d="M2364.8 1276v5" stroke="#10145a" stroke-width="3.6" stroke-linecap="round"/>
<path d="M2403 936.5v5" stroke="#10145a" stroke-width="3.6" stroke-linecap="round"/>
<path d="M2403 1276v5" stroke="#10145a" stroke-width="3.6" stroke-linecap="round"/>
<path d="M2441.1 936.5v5" stroke="#10145a" stroke-width="3.6" stroke-linecap="round"/>
<path d="M2441.1 1276v5" stroke="#10145a" stroke-width="3.6" stroke-linecap="round"/>
<path d="M2479.3 936.5v5" stroke="#10145a" stroke-width="3.6" stroke-linecap="round"/>
<path d="M2479.3 1276v5" stroke="#10145a" stroke-width="3.6" stroke-linecap="round"/>
<path d="M2517.4 936.5v5" stroke="#10145a" stroke-width="3.6" stroke-linecap="round"/>
<path d="M2517.4 1276v5" stroke="#10145a" stroke-width="3.6" stroke-linecap="round"/>
<path d="M2555.6 936.5v5" stroke="#10145a" stroke-width="3.6" stroke-linecap="round"/>
<path d="M2555.6 1276v5" stroke="#10145a" stroke-width="3.6" stroke-linecap="round"/>
<path d="M2593.8 936.5v5" stroke="#10145a" stroke-width="3.6" stroke-linecap="round"/>
<path d="M2593.8 1276v5" stroke="#10145a" stroke-width="3.6" stroke-linecap="round"/>
<path d="M1592.5 937V1280" stroke="#a9d5f2" stroke-width="3.2"/>
<circle cx="1592.5" cy="937.1" r="3.4" fill="#10145a"/>
<circle cx="1592.5" cy="1051.4" r="3.4" fill="#10145a"/>
<circle cx="1592.5" cy="1089.7" r="3.4" fill="#10145a"/>
<circle cx="1592.5" cy="1128" r="3.4" fill="#10145a"/>
<circle cx="1592.5" cy="1166.4" r="3.4" fill="#10145a"/>
<circle cx="1592.5" cy="1280.2" r="3.4" fill="#10145a"/>
<path d="M1586.5 1051.4h6" stroke="#10145a" stroke-width="3.2" stroke-linecap="round"/>
<path d="M1586.5 1166.4h6" stroke="#10145a" stroke-width="3.2" stroke-linecap="round"/>
<path d="M1936.9 937V1280" stroke="#a9d5f2" stroke-width="3.2"/>
<circle cx="1936.9" cy="937.1" r="3.4" fill="#10145a"/>
<circle cx="1936.9" cy="1051.4" r="3.4" fill="#10145a"/>
<circle cx="1936.9" cy="1089.7" r="3.4" fill="#10145a"/>
<circle cx="1936.9" cy="1128" r="3.4" fill="#10145a"/>
<circle cx="1936.9" cy="1166.4" r="3.4" fill="#10145a"/>
<circle cx="1936.9" cy="1280.2" r="3.4" fill="#10145a"/>
<path d="M1936.9 1051.4h6" stroke="#10145a" stroke-width="3.2" stroke-linecap="round"/>
<path d="M1936.9 1166.4h6" stroke="#10145a" stroke-width="3.2" stroke-linecap="round"/>
<circle cx="2290" cy="1051.4" r="3" fill="#10145a"/>
<circle cx="2290" cy="1165.2" r="3" fill="#10145a"/>
<use href="#arV" transform="translate(1750.2,890.4) scale(1.0,1.0)" fill="#1c2b99"/>
<use href="#arV" transform="translate(1766.7,843.2) scale(1.0,-1.0)" fill="#cf1126"/>
<use href="#arR" transform="translate(2628.7,1100.3) scale(0.69,0.69)" fill="#cf1126"/>
<use href="#arR" transform="translate(2674.3,1116.4) scale(-0.69,0.69)" fill="#1c2b99"/>
<path d="M1670.4 1513.1H1557.3V1360.9L932.6 1422.2V1446.4L1039.1 1431.8V1578.2L1000.4 1584.4V1623.5Q1764.6 1509.3 2528.8 1621.9V1584L2491.8 1579.6V1432.4L2595.9 1447.7V1422L1975.3 1361.9V1513.9H1861.1" fill="none" stroke="#10145a" stroke-width="1.6"/>
<path d="M1103.9 1424.2 L1385.2 1396.2 L1385.2 1541.1 L1103.1 1568.7 Z" fill="none" stroke="#10145a" stroke-width="1.6"/>
<path d="M1452.7 1391.6 L1550.4 1385.8 L1552.4 1530.3 L1452.7 1536.5 Z" fill="none" stroke="#10145a" stroke-width="1.6"/>
<path d="M1983.1 1387.1 L2080.2 1392.8 L2080.2 1537.4 L1980.9 1530.9 Z" fill="none" stroke="#10145a" stroke-width="1.6"/>
<path d="M2144.3 1396.7 L2425.2 1424.1 L2426 1569.6 L2144.3 1541.7 Z" fill="none" stroke="#10145a" stroke-width="1.6"/>
<circle cx="1593.8" cy="1358" r="2" fill="#10145a"/>
<circle cx="1593.8" cy="1396" r="2" fill="#10145a"/>
<circle cx="1593.8" cy="1434" r="2" fill="#10145a"/>
<circle cx="1593.8" cy="1472" r="2" fill="#10145a"/>
<circle cx="1632.1" cy="1358" r="2" fill="#10145a"/>
<circle cx="1632.1" cy="1396" r="2" fill="#10145a"/>
<circle cx="1632.1" cy="1434" r="2" fill="#10145a"/>
<circle cx="1632.1" cy="1472" r="2" fill="#10145a"/>
<circle cx="1708" cy="1358" r="2" fill="#10145a"/>
<circle cx="1708" cy="1396" r="2" fill="#10145a"/>
<circle cx="1708" cy="1434" r="2" fill="#10145a"/>
<circle cx="1708" cy="1472" r="2" fill="#10145a"/>
<circle cx="1822.8" cy="1358" r="2" fill="#10145a"/>
<circle cx="1822.8" cy="1396" r="2" fill="#10145a"/>
<circle cx="1822.8" cy="1434" r="2" fill="#10145a"/>
<circle cx="1822.8" cy="1472" r="2" fill="#10145a"/>
<circle cx="1898.6" cy="1358" r="2" fill="#10145a"/>
<circle cx="1898.6" cy="1396" r="2" fill="#10145a"/>
<circle cx="1898.6" cy="1434" r="2" fill="#10145a"/>
<circle cx="1898.6" cy="1472" r="2" fill="#10145a"/>
<circle cx="1936.5" cy="1358" r="2" fill="#10145a"/>
<circle cx="1936.5" cy="1396" r="2" fill="#10145a"/>
<circle cx="1936.5" cy="1434" r="2" fill="#10145a"/>
<circle cx="1936.5" cy="1472" r="2" fill="#10145a"/>
<circle cx="995.4" cy="1368.7" r="16.5" fill="none" stroke="#10145a" stroke-width="1.6"/>
<circle cx="2536.3" cy="1368.7" r="16.5" fill="none" stroke="#10145a" stroke-width="1.6"/>
<g transform="translate(1651.2,1434)" fill="none" stroke="#777" stroke-width="1"><path d="M-14 20V-14L-6 -18V20M-6 20H-14M14 20V-14L6 -20V20M6 20H14M-6 -18L6 -20M-14 -14L14 -14"/><path d="M-14 -6H14M-14 -3H14M-14 0H14M-14 3H14M-14 6H14M-14 9H14"/></g>
<g transform="translate(1879.4,1434)" fill="none" stroke="#777" stroke-width="1"><path d="M-14 20V-14L-6 -18V20M-6 20H-14M14 20V-14L6 -20V20M6 20H14M-6 -18L6 -20M-14 -14L14 -14"/><path d="M-14 -6H14M-14 -3H14M-14 0H14M-14 3H14M-14 6H14M-14 9H14"/></g>
<path d="M948.2 1935 L948.2 1762.6 L1232.2 1762.6 L1232.2 1969.5 L1277.5 1969.5" fill="none" stroke="#10145a" stroke-width="4.2" stroke-linejoin="miter" stroke-linecap="butt"/>
<path d="M948.4 2161.1 L948.4 2351.5 L1165.6 2327.9 L1165.6 2308.7 L1232.2 2308.7 L1232.2 2122.8 L1277.5 2122.8" fill="none" stroke="#10145a" stroke-width="4.2" stroke-linejoin="miter" stroke-linecap="butt"/>
<path d="M965.9 2157.3 L1112.7 2157.3 L1112.7 2147.7 L1120.4 2147.7 L1120.4 2202.5 L1225 2202.5" fill="none" stroke="#10145a" stroke-width="4" stroke-linejoin="miter" stroke-linecap="butt"/>
<path d="M958.3 2195.6 L958.3 2333.6 L1160 2314.5" fill="none" stroke="#10145a" stroke-width="1.3"/>
<circle cx="964" cy="1778.7" r="2.6" fill="#10145a"/>
<circle cx="1002.3" cy="1778.7" r="2.6" fill="#10145a"/>
<circle cx="1040.7" cy="1778.7" r="2.6" fill="#10145a"/>
<circle cx="1078.6" cy="1778.7" r="2.6" fill="#10145a"/>
<circle cx="1117" cy="1778.7" r="2.6" fill="#10145a"/>
<circle cx="1154.9" cy="1778.7" r="2.6" fill="#10145a"/>
<circle cx="1193.2" cy="1778.7" r="2.6" fill="#10145a"/>
<circle cx="963.2" cy="1819" r="2.6" fill="#10145a"/>
<circle cx="963.2" cy="1857.3" r="2.6" fill="#10145a"/>
<circle cx="963.2" cy="1895.7" r="2.6" fill="#10145a"/>
<circle cx="963.2" cy="1934" r="2.6" fill="#10145a"/>
<circle cx="963.2" cy="1972.3" r="2.6" fill="#10145a"/>
<circle cx="963.2" cy="2010.7" r="2.6" fill="#10145a"/>
<circle cx="963.2" cy="2049" r="2.6" fill="#10145a"/>
<circle cx="963.2" cy="2087.3" r="2.6" fill="#10145a"/>
<circle cx="963.2" cy="2125.6" r="2.6" fill="#10145a"/>
<circle cx="963.2" cy="2164" r="2.6" fill="#10145a"/>
<circle cx="963.2" cy="2202.3" r="2.6" fill="#10145a"/>
<circle cx="963.2" cy="2240.6" r="2.6" fill="#10145a"/>
<circle cx="963.2" cy="2279" r="2.6" fill="#10145a"/>
<circle cx="964" cy="2276.9" r="2.6" fill="#10145a"/>
<circle cx="964" cy="2306.8" r="2.6" fill="#10145a"/>
<circle cx="1002.3" cy="2276.9" r="2.6" fill="#10145a"/>
<circle cx="1002.3" cy="2306.8" r="2.6" fill="#10145a"/>
<circle cx="1040.7" cy="2276.9" r="2.6" fill="#10145a"/>
<circle cx="1040.7" cy="2306.8" r="2.6" fill="#10145a"/>
<circle cx="1078.6" cy="2276.9" r="2.6" fill="#10145a"/>
<circle cx="1078.6" cy="2306.8" r="2.6" fill="#10145a"/>
<circle cx="1117" cy="2276.9" r="2.6" fill="#10145a"/>
<circle cx="1117" cy="2306.8" r="2.6" fill="#10145a"/>
<circle cx="1154.9" cy="2276.9" r="2.6" fill="#10145a"/>
<circle cx="1154.9" cy="2306.8" r="2.6" fill="#10145a"/>
<circle cx="1193.2" cy="2306.8" r="2.6" fill="#10145a"/>
<circle cx="1229.5" cy="1857" r="2.6" fill="#10145a"/>
<circle cx="1229.5" cy="2161" r="2.6" fill="#10145a"/>
<circle cx="1229.5" cy="2199" r="2.6" fill="#10145a"/>
<circle cx="1229.5" cy="2237" r="2.6" fill="#10145a"/>
<circle cx="1229.5" cy="2275" r="2.6" fill="#10145a"/>
<rect x="967.1" y="1788.3" width="71.7" height="99.7" fill="none" stroke="#10145a" stroke-width="1.2"/>
<rect x="1154.1" y="1786.4" width="59.4" height="102.3" fill="none" stroke="#10145a" stroke-width="1.2"/>
<rect x="967" y="1888.7" width="124.6" height="8.1" fill="none" stroke="#10145a" stroke-width="1.2"/>
<rect x="1101.2" y="1888.7" width="24.9" height="8.1" fill="none" stroke="#10145a" stroke-width="1.2"/>
<rect x="1135.7" y="1888.7" width="83.2" height="8.1" fill="none" stroke="#10145a" stroke-width="1.2"/>
<rect x="1112" y="1899.7" width="9" height="46" fill="none" stroke="#10145a" stroke-width="1.2"/>
<rect x="1112" y="1954" width="9" height="26" fill="none" stroke="#10145a" stroke-width="1.2"/>
<rect x="1112" y="1999" width="9" height="96" fill="none" stroke="#10145a" stroke-width="1.2"/>
<rect x="1112" y="2114" width="9" height="25" fill="none" stroke="#10145a" stroke-width="1.2"/>
<rect x="978.6" y="2166.9" width="70.1" height="95.8" fill="none" stroke="#10145a" stroke-width="1.2"/>
<path d="M1048.7 2202.5 L1114.6 2202.5" fill="none" stroke="#10145a" stroke-width="1.2"/>
<path d="M1157.6 2207 L1215 2207 L1215 2299 L1157.6 2299 L1157.6 2262 L1170 2262 L1170 2242 L1157.6 2242 Z" fill="none" stroke="#10145a" stroke-width="1.2"/>
<path d="M1277.5 1969.5V2122.8" stroke="#10145a" stroke-width="1" stroke-dasharray="5 2"/>
<path d="M1317.8 1773.7 L1277.5 1773.7 L1277.5 1969.5" fill="none" stroke="#10145a" stroke-width="4.2" stroke-linejoin="miter" stroke-linecap="butt"/>
<path d="M1277.5 2122.8 L1277.5 2308 L1354.2 2308" fill="none" stroke="#10145a" stroke-width="4.2" stroke-linejoin="miter" stroke-linecap="butt"/>
<path d="M1467.3 1774.9 L1511.4 1774.9 L1511.4 1813.2 L1548.5 1813.2 L1548.5 1895.2" fill="none" stroke="#10145a" stroke-width="4.2" stroke-linejoin="miter" stroke-linecap="butt"/>
<path d="M1548.5 2198 L1548.5 2308 L1468.4 2308" fill="none" stroke="#10145a" stroke-width="4.2" stroke-linejoin="miter" stroke-linecap="butt"/>
<circle cx="1315.9" cy="1779.5" r="2.6" fill="#10145a"/>
<circle cx="1315.9" cy="2275.3" r="2.6" fill="#10145a"/>
<circle cx="1315.9" cy="2304.8" r="2.6" fill="#10145a"/>
<circle cx="1354.2" cy="1779.5" r="2.6" fill="#10145a"/>
<circle cx="1354.2" cy="2275.3" r="2.6" fill="#10145a"/>
<circle cx="1354.2" cy="2304.8" r="2.6" fill="#10145a"/>
<circle cx="1392.6" cy="1779.5" r="2.6" fill="#10145a"/>
<circle cx="1392.6" cy="2275.3" r="2.6" fill="#10145a"/>
<circle cx="1392.6" cy="2304.8" r="2.6" fill="#10145a"/>
<circle cx="1430.9" cy="1779.5" r="2.6" fill="#10145a"/>
<circle cx="1430.9" cy="2275.3" r="2.6" fill="#10145a"/>
<circle cx="1430.9" cy="2304.8" r="2.6" fill="#10145a"/>
<circle cx="1469.2" cy="1779.5" r="2.6" fill="#10145a"/>
<circle cx="1469.2" cy="2275.3" r="2.6" fill="#10145a"/>
<circle cx="1469.2" cy="2304.8" r="2.6" fill="#10145a"/>
<circle cx="1507.6" cy="1779.5" r="2.6" fill="#10145a"/>
<circle cx="1507.6" cy="2275.3" r="2.6" fill="#10145a"/>
<circle cx="1507.6" cy="2304.8" r="2.6" fill="#10145a"/>
<circle cx="1545.5" cy="1856.4" r="2.6" fill="#10145a"/>
<circle cx="1545.5" cy="1933" r="2.6" fill="#10145a"/>
<circle cx="1545.5" cy="1970.6" r="2.6" fill="#10145a"/>
<circle cx="1545.5" cy="2008.6" r="2.6" fill="#10145a"/>
<circle cx="1545.5" cy="2085.2" r="2.6" fill="#10145a"/>
<circle cx="1545.5" cy="2123.5" r="2.6" fill="#10145a"/>
<circle cx="1545.5" cy="2161.9" r="2.6" fill="#10145a"/>
<circle cx="1545.5" cy="2237.8" r="2.6" fill="#10145a"/>
<circle cx="1545.5" cy="2275.3" r="2.6" fill="#10145a"/>
<circle cx="1508" cy="1818" r="2.6" fill="#10145a"/>
<circle cx="1279" cy="1856.4" r="2.6" fill="#10145a"/>
<circle cx="1279" cy="1933" r="2.6" fill="#10145a"/>
<circle cx="1279" cy="2046" r="2.6" fill="#10145a"/>
<circle cx="1279" cy="2161" r="2.6" fill="#10145a"/>
<circle cx="1279" cy="2199.4" r="2.6" fill="#10145a"/>
<circle cx="1279" cy="2237.8" r="2.6" fill="#10145a"/>
<use href="#arV" transform="translate(1600,2241) scale(1.0,-1.0)" fill="#1c2b99"/>
<use href="#arV" transform="translate(1799.3,2287.3) scale(1.0,1.0)" fill="#cf1126"/>
<use href="#arV" transform="translate(1984.4,2241) scale(1.0,-1.0)" fill="#1c2b99"/>
<path d="M2112.4 1776.4 L2068.3 1776.4 L2068.3 1814.7 L2030.8 1814.7 L2030.8 1895.2" fill="none" stroke="#10145a" stroke-width="4.2" stroke-linejoin="miter" stroke-linecap="butt"/>
<path d="M2030.8 2200 L2030.8 2310 L2076 2310" fill="none" stroke="#10145a" stroke-width="4.2" stroke-linejoin="miter" stroke-linecap="butt"/>
<path d="M2185.3 1777 L2311.7 1777" fill="none" stroke="#10145a" stroke-width="4.2" stroke-linejoin="miter" stroke-linecap="butt"/>
<path d="M2423.4 1777 L2466.1 1777 L2466.1 1858" fill="none" stroke="#10145a" stroke-width="4.2" stroke-linejoin="miter" stroke-linecap="butt"/>
<path d="M2466.1 2122.3 L2466.1 2339" fill="none" stroke="#10145a" stroke-width="4.2" stroke-linejoin="miter" stroke-linecap="butt"/>
<path d="M2187.4 2306.2 L2225.8 2306.2 L2468.3 2338.2" fill="none" stroke="#10145a" stroke-width="4" stroke-linejoin="miter" stroke-linecap="butt"/>
<path d="M2225.8 1777 L2225.8 1933.4 L2271.2 1933.4 L2271.2 1777" fill="none" stroke="#10145a" stroke-width="4" stroke-linejoin="miter" stroke-linecap="butt"/>
<path d="M2225.8 2306.3 L2225.8 2161.9 L2271.2 2161.9 L2271.2 2311" fill="none" stroke="#10145a" stroke-width="4" stroke-linejoin="miter" stroke-linecap="butt"/>
<circle cx="2225.8" cy="1777" r="3" fill="#10145a"/>
<circle cx="2225.8" cy="1815.3" r="3" fill="#10145a"/>
<circle cx="2225.8" cy="1853.7" r="3" fill="#10145a"/>
<circle cx="2225.8" cy="1892" r="3" fill="#10145a"/>
<circle cx="2225.8" cy="1930.3" r="3" fill="#10145a"/>
<circle cx="2225.8" cy="2161.9" r="3" fill="#10145a"/>
<circle cx="2225.8" cy="2200.2" r="3" fill="#10145a"/>
<circle cx="2225.8" cy="2238.6" r="3" fill="#10145a"/>
<circle cx="2225.8" cy="2276.9" r="3" fill="#10145a"/>
<circle cx="2271.2" cy="1777" r="3" fill="#10145a"/>
<circle cx="2271.2" cy="1815.3" r="3" fill="#10145a"/>
<circle cx="2271.2" cy="1853.7" r="3" fill="#10145a"/>
<circle cx="2271.2" cy="1892" r="3" fill="#10145a"/>
<circle cx="2271.2" cy="1930.3" r="3" fill="#10145a"/>
<circle cx="2271.2" cy="2161.9" r="3" fill="#10145a"/>
<circle cx="2271.2" cy="2200.2" r="3" fill="#10145a"/>
<circle cx="2271.2" cy="2238.6" r="3" fill="#10145a"/>
<circle cx="2271.2" cy="2276.9" r="3" fill="#10145a"/>
<circle cx="2225.8" cy="1971.6" r="2.8" fill="#10145a"/>
<circle cx="2225.8" cy="2048" r="2.8" fill="#10145a"/>
<circle cx="2225.8" cy="2124.4" r="2.8" fill="#10145a"/>
<circle cx="2072.9" cy="1779.5" r="2.8" fill="#10145a"/>
<circle cx="2072.9" cy="2276.6" r="2.8" fill="#10145a"/>
<circle cx="2072.9" cy="2306.5" r="2.8" fill="#10145a"/>
<circle cx="2111.3" cy="1779.5" r="2.8" fill="#10145a"/>
<circle cx="2111.3" cy="2276.6" r="2.8" fill="#10145a"/>
<circle cx="2111.3" cy="2306.5" r="2.8" fill="#10145a"/>
<circle cx="2149.6" cy="1779.5" r="2.8" fill="#10145a"/>
<circle cx="2149.6" cy="2276.6" r="2.8" fill="#10145a"/>
<circle cx="2149.6" cy="2306.5" r="2.8" fill="#10145a"/>
<circle cx="2187.9" cy="1779.5" r="2.8" fill="#10145a"/>
<circle cx="2187.9" cy="2276.6" r="2.8" fill="#10145a"/>
<circle cx="2187.9" cy="2306.5" r="2.8" fill="#10145a"/>
<circle cx="2035" cy="1818" r="2.8" fill="#10145a"/>
<circle cx="2035" cy="1856" r="2.8" fill="#10145a"/>
<circle cx="2035" cy="1895" r="2.8" fill="#10145a"/>
<circle cx="2035" cy="1932.8" r="2.8" fill="#10145a"/>
<circle cx="2035" cy="1971.1" r="2.8" fill="#10145a"/>
<circle cx="2035" cy="2009.4" r="2.8" fill="#10145a"/>
<circle cx="2035" cy="2047.8" r="2.8" fill="#10145a"/>
<circle cx="2035" cy="2086.1" r="2.8" fill="#10145a"/>
<circle cx="2035" cy="2124.4" r="2.8" fill="#10145a"/>
<circle cx="2035" cy="2161.6" r="2.8" fill="#10145a"/>
<circle cx="2035" cy="2200" r="2.8" fill="#10145a"/>
<circle cx="2035" cy="2238" r="2.8" fill="#10145a"/>
<circle cx="2035" cy="2276" r="2.8" fill="#10145a"/>
<circle cx="2035" cy="2306" r="2.8" fill="#10145a"/>
<circle cx="2308.7" cy="1779.9" r="2.8" fill="#10145a"/>
<circle cx="2308.7" cy="2277.7" r="2.8" fill="#10145a"/>
<circle cx="2308.7" cy="2306.2" r="2.8" fill="#10145a"/>
<circle cx="2347.3" cy="1779.9" r="2.8" fill="#10145a"/>
<circle cx="2347.3" cy="2277.7" r="2.8" fill="#10145a"/>
<circle cx="2347.3" cy="2306.2" r="2.8" fill="#10145a"/>
<circle cx="2385.5" cy="1779.9" r="2.8" fill="#10145a"/>
<circle cx="2385.5" cy="2277.7" r="2.8" fill="#10145a"/>
<circle cx="2385.5" cy="2306.2" r="2.8" fill="#10145a"/>
<circle cx="2423.4" cy="1779.9" r="2.8" fill="#10145a"/>
<circle cx="2423.4" cy="2277.7" r="2.8" fill="#10145a"/>
<circle cx="2423.4" cy="2306.2" r="2.8" fill="#10145a"/>
<circle cx="2462" cy="1818" r="2.8" fill="#10145a"/>
<circle cx="2462" cy="1857" r="2.8" fill="#10145a"/>
<circle cx="2462" cy="1894.6" r="2.8" fill="#10145a"/>
<circle cx="2462" cy="1933.2" r="2.8" fill="#10145a"/>
<circle cx="2462" cy="1971.8" r="2.8" fill="#10145a"/>
<circle cx="2462" cy="2009.7" r="2.8" fill="#10145a"/>
<circle cx="2462" cy="2047.9" r="2.8" fill="#10145a"/>
<circle cx="2462" cy="2086.5" r="2.8" fill="#10145a"/>
<circle cx="2462" cy="2124" r="2.8" fill="#10145a"/>
<circle cx="2462" cy="2162" r="2.8" fill="#10145a"/>
<circle cx="2462" cy="2200" r="2.8" fill="#10145a"/>
<circle cx="2462" cy="2239" r="2.8" fill="#10145a"/>
<circle cx="2462" cy="2277.7" r="2.8" fill="#10145a"/>
<circle cx="2462" cy="2306.2" r="2.8" fill="#10145a"/>
<path d="M2468 2338.7L2537.2 2360.3" stroke="#10145a" stroke-width="2.6" stroke-dasharray="11 6" fill="none"/>
<path d="M2775 730.4 L2744.5 730.4 L2744.5 935 L2692.7 935 L2692.7 1051.2" fill="none" stroke="#10145a" stroke-width="4.0" stroke-linejoin="miter" stroke-linecap="butt"/>
<path d="M2692.7 1167.2 L2692.7 1281.1 L2745.6 1281.1 L2745.6 1403 L2710 1403 L2710 1539" fill="none" stroke="#10145a" stroke-width="4.0" stroke-linejoin="miter" stroke-linecap="butt"/>
<path d="M2711 1594.6 L2711 1693.8 L2575.8 1693.8 L2575.8 1812.2 L2526 1812.2" fill="none" stroke="#10145a" stroke-width="4.0" stroke-linejoin="miter" stroke-linecap="butt"/>
<path d="M2526 2168.7 L2539.4 2168.7 L2539.4 2360.6 L2789.7 2388.2" fill="none" stroke="#10145a" stroke-width="4.0" stroke-linejoin="miter" stroke-linecap="butt"/>
<path d="M2841 2394.4 L3016.6 2416.2 L3016.6 2394.4 L3041.5 2394.4 L3041.5 2241 L3097.9 2241 L3097.9 2129.2 L3122 2129.2 L3122 675.6 L3041.5 675.6" fill="none" stroke="#10145a" stroke-width="4.0" stroke-linejoin="miter" stroke-linecap="butt"/>
<path d="M3041.5 1741 L3122 1741" fill="none" stroke="#10145a" stroke-width="6" stroke-linejoin="miter" stroke-linecap="butt"/>
<path d="M3042.2 675.6 L3042.2 2241" fill="none" stroke="#10145a" stroke-width="2.4" stroke-linejoin="miter" stroke-linecap="butt"/>
<path d="M3038.8 784h4.5" stroke="#10145a" stroke-width="5" stroke-linecap="round"/>
<path d="M3038.8 822.3h4.5" stroke="#10145a" stroke-width="5" stroke-linecap="round"/>
<path d="M3038.8 860.7h4.5" stroke="#10145a" stroke-width="5" stroke-linecap="round"/>
<path d="M3038.8 899h4.5" stroke="#10145a" stroke-width="5" stroke-linecap="round"/>
<path d="M3038.8 937.3h4.5" stroke="#10145a" stroke-width="5" stroke-linecap="round"/>
<path d="M3038.8 975.6h4.5" stroke="#10145a" stroke-width="5" stroke-linecap="round"/>
<path d="M3038.8 1014h4.5" stroke="#10145a" stroke-width="5" stroke-linecap="round"/>
<path d="M3038.8 1052.3h4.5" stroke="#10145a" stroke-width="5" stroke-linecap="round"/>
<path d="M3038.8 1090.6h4.5" stroke="#10145a" stroke-width="5" stroke-linecap="round"/>
<path d="M3038.8 1129h4.5" stroke="#10145a" stroke-width="5" stroke-linecap="round"/>
<path d="M3038.8 1167.3h4.5" stroke="#10145a" stroke-width="5" stroke-linecap="round"/>
<path d="M3038.8 1205.6h4.5" stroke="#10145a" stroke-width="5" stroke-linecap="round"/>
<path d="M3038.8 1244h4.5" stroke="#10145a" stroke-width="5" stroke-linecap="round"/>
<path d="M3038.8 1282.3h4.5" stroke="#10145a" stroke-width="5" stroke-linecap="round"/>
<path d="M3038.8 1320.6h4.5" stroke="#10145a" stroke-width="5" stroke-linecap="round"/>
<path d="M3038.8 1358.9h4.5" stroke="#10145a" stroke-width="5" stroke-linecap="round"/>
<path d="M3038.8 1397.3h4.5" stroke="#10145a" stroke-width="5" stroke-linecap="round"/>
<path d="M3038.8 1435.6h4.5" stroke="#10145a" stroke-width="5" stroke-linecap="round"/>
<path d="M3038.8 1473.9h4.5" stroke="#10145a" stroke-width="5" stroke-linecap="round"/>
<path d="M3038.8 1512.3h4.5" stroke="#10145a" stroke-width="5" stroke-linecap="round"/>
<path d="M3038.8 1550.6h4.5" stroke="#10145a" stroke-width="5" stroke-linecap="round"/>
<path d="M3038.8 1588.9h4.5" stroke="#10145a" stroke-width="5" stroke-linecap="round"/>
<path d="M3038.8 1627.3h4.5" stroke="#10145a" stroke-width="5" stroke-linecap="round"/>
<path d="M3038.8 1665.6h4.5" stroke="#10145a" stroke-width="5" stroke-linecap="round"/>
<path d="M3038.8 1703.9h4.5" stroke="#10145a" stroke-width="5" stroke-linecap="round"/>
<path d="M3038.8 1742.2h4.5" stroke="#10145a" stroke-width="5" stroke-linecap="round"/>
<path d="M3038.8 1780.6h4.5" stroke="#10145a" stroke-width="5" stroke-linecap="round"/>
<path d="M3038.8 1818.9h4.5" stroke="#10145a" stroke-width="5" stroke-linecap="round"/>
<path d="M3038.8 1857.2h4.5" stroke="#10145a" stroke-width="5" stroke-linecap="round"/>
<path d="M3038.8 1895.6h4.5" stroke="#10145a" stroke-width="5" stroke-linecap="round"/>
<path d="M3038.8 1933.9h4.5" stroke="#10145a" stroke-width="5" stroke-linecap="round"/>
<path d="M3038.8 1972.2h4.5" stroke="#10145a" stroke-width="5" stroke-linecap="round"/>
<path d="M3038.8 2010.6h4.5" stroke="#10145a" stroke-width="5" stroke-linecap="round"/>
<path d="M3038.8 2048.9h4.5" stroke="#10145a" stroke-width="5" stroke-linecap="round"/>
<path d="M3038.8 2087.2h4.5" stroke="#10145a" stroke-width="5" stroke-linecap="round"/>
<path d="M3038.8 2125.6h4.5" stroke="#10145a" stroke-width="5" stroke-linecap="round"/>
<path d="M3038.8 2163.9h4.5" stroke="#10145a" stroke-width="5" stroke-linecap="round"/>
<path d="M3038.8 2202.2h4.5" stroke="#10145a" stroke-width="5" stroke-linecap="round"/>
<path d="M2774.4 747.2 L2774.4 1051.2" fill="none" stroke="#10145a" stroke-width="3" stroke-linejoin="miter" stroke-linecap="butt"/>
<path d="M2774.4 747.2 L2812.7 747.2" fill="none" stroke="#10145a" stroke-width="1.4"/>
<path d="M2774.4 1172 L2774.4 1319.4" fill="none" stroke="#10145a" stroke-width="3" stroke-linejoin="miter" stroke-linecap="butt"/>
<path d="M2772.2 784h4.5" stroke="#10145a" stroke-width="5" stroke-linecap="round"/>
<path d="M2772.2 822.3h4.5" stroke="#10145a" stroke-width="5" stroke-linecap="round"/>
<path d="M2772.2 860.7h4.5" stroke="#10145a" stroke-width="5" stroke-linecap="round"/>
<path d="M2772.2 899h4.5" stroke="#10145a" stroke-width="5" stroke-linecap="round"/>
<path d="M2772.2 937.3h4.5" stroke="#10145a" stroke-width="5" stroke-linecap="round"/>
<path d="M2772.2 975.6h4.5" stroke="#10145a" stroke-width="5" stroke-linecap="round"/>
<path d="M2772.2 1014h4.5" stroke="#10145a" stroke-width="5" stroke-linecap="round"/>
<path d="M2772.2 1052.3h4.5" stroke="#10145a" stroke-width="5" stroke-linecap="round"/>
<path d="M2772.2 1090.6h4.5" stroke="#10145a" stroke-width="5" stroke-linecap="round"/>
<path d="M2772.2 1129h4.5" stroke="#10145a" stroke-width="5" stroke-linecap="round"/>
<path d="M2772.2 1167.3h4.5" stroke="#10145a" stroke-width="5" stroke-linecap="round"/>
<path d="M2772.2 1205.6h4.5" stroke="#10145a" stroke-width="5" stroke-linecap="round"/>
<path d="M2772.2 1244h4.5" stroke="#10145a" stroke-width="5" stroke-linecap="round"/>
<path d="M2772.2 1282.3h4.5" stroke="#10145a" stroke-width="5" stroke-linecap="round"/>
<path d="M2772.2 1320.6h4.5" stroke="#10145a" stroke-width="5" stroke-linecap="round"/>
<path d="M2772.2 1357.7h4.5" stroke="#10145a" stroke-width="5" stroke-linecap="round"/>
<path d="M2772.2 1396h4.5" stroke="#10145a" stroke-width="5" stroke-linecap="round"/>
<path d="M2772.2 1434.5h4.5" stroke="#10145a" stroke-width="5" stroke-linecap="round"/>
<path d="M2812.7 743.5v6" stroke="#10145a" stroke-width="4" stroke-linecap="round"/>
<path d="M2851 743.5v6" stroke="#10145a" stroke-width="4" stroke-linecap="round"/>
<path d="M2889.3 743.5v6" stroke="#10145a" stroke-width="4" stroke-linecap="round"/>
<path d="M2927.7 743.5v6" stroke="#10145a" stroke-width="4" stroke-linecap="round"/>
<path d="M2889.3 746.5 L2927.7 746.5" fill="none" stroke="#10145a" stroke-width="2"/>
<path d="M2889.3 728.5 L2889.3 708.2 L2925.8 708.2 L2925.8 676.7" fill="none" stroke="#10145a" stroke-width="4.0" stroke-linejoin="miter" stroke-linecap="butt"/>
<path d="M2927 708.2 L2927 746.5" fill="none" stroke="#10145a" stroke-width="1.4"/>
<rect x="2888.5" y="748.5" width="39.1" height="13.5" fill="none" stroke="#999" stroke-width="1"/>
<rect x="2962.9" y="674.5" width="4" height="5" fill="#10145a"/>
<rect x="3002" y="674.5" width="4" height="5" fill="#10145a"/>
<circle cx="2773.2" cy="632.8" r="3.2" fill="#10145a"/>
<circle cx="2812.3" cy="632.8" r="3.2" fill="#10145a"/>
<circle cx="2851" cy="632.8" r="3.2" fill="#10145a"/>
<circle cx="2889.3" cy="632.8" r="3.2" fill="#10145a"/>
<circle cx="2928.4" cy="632.8" r="3.2" fill="#10145a"/>
<circle cx="2966.8" cy="632.8" r="3.2" fill="#10145a"/>
<circle cx="3005.9" cy="632.8" r="3.2" fill="#10145a"/>
<circle cx="3043.4" cy="632.8" r="3.2" fill="#10145a"/>
<path d="M2773.2 636L2773.2 727.3" stroke="#10145a" stroke-width="2.6" stroke-dasharray="11 6" fill="none"/>
<path d="M3045.3 636L3045.3 672" stroke="#10145a" stroke-width="2.6" stroke-dasharray="11 6" fill="none"/>
<path d="M2700.4 1037.8 L2774.4 1037.8" fill="none" stroke="#10145a" stroke-width="1.4"/>
<rect x="2692.7" y="938" width="7.7" height="11.5" fill="none" stroke="#10145a" stroke-width="1.2"/>
<rect x="2692.7" y="969.5" width="7.7" height="11.5" fill="none" stroke="#10145a" stroke-width="1.2"/>
<rect x="2692.7" y="1005" width="7.7" height="11.5" fill="none" stroke="#10145a" stroke-width="1.2"/>
<rect x="2692.7" y="1039.5" width="7.7" height="11.5" fill="none" stroke="#10145a" stroke-width="1.2"/>
<rect x="2692.7" y="1167.2" width="7.7" height="11.5" fill="none" stroke="#10145a" stroke-width="1.2"/>
<rect x="2692.7" y="1201" width="7.7" height="11.5" fill="none" stroke="#10145a" stroke-width="1.2"/>
<rect x="2692.7" y="1236" width="7.7" height="11.5" fill="none" stroke="#10145a" stroke-width="1.2"/>
<rect x="2692.7" y="1269" width="7.7" height="11.5" fill="none" stroke="#10145a" stroke-width="1.2"/>
<path d="M2700.4 1179 L2759.8 1179" fill="none" stroke="#10145a" stroke-width="1.4"/>
<rect x="2759.8" y="1173.8" width="14.6" height="145.6" fill="none" stroke="#10145a" stroke-width="1.4"/>
<rect x="3041.5" y="708.2" width="19.9" height="76.6" fill="none" stroke="#10145a" stroke-width="1.4"/>
<rect x="3041.5" y="899" width="19.9" height="77.4" fill="none" stroke="#10145a" stroke-width="1.4"/>
<rect x="3041.5" y="1242.8" width="19.9" height="76.6" fill="none" stroke="#10145a" stroke-width="1.4"/>
<rect x="3041.5" y="1588" width="19.9" height="76.8" fill="none" stroke="#10145a" stroke-width="1.4"/>
<rect x="3041.5" y="1933" width="21.1" height="76.6" fill="none" stroke="#10145a" stroke-width="1.4"/>
<rect x="3041.5" y="2124.6" width="21.1" height="39.1" fill="none" stroke="#10145a" stroke-width="1.4"/>
<use href="#wc" x="3059.5" y="747.6"/>
<use href="#wc" x="3060.7" y="937.4"/>
<use href="#wc" x="3061.4" y="1281"/>
<use href="#wc" x="3060.7" y="1626.4"/>
<use href="#wc" x="3060.7" y="1972.5"/>
<use href="#wc" x="3058.8" y="2144.5"/>
<path d="M2735.3 1473.9h4.5" stroke="#10145a" stroke-width="5" stroke-linecap="round"/>
<path d="M2735.3 1512.2h4.5" stroke="#10145a" stroke-width="5" stroke-linecap="round"/>
<path d="M2735.3 1550.6h4.5" stroke="#10145a" stroke-width="5" stroke-linecap="round"/>
<path d="M2735.3 1588.9h4.5" stroke="#10145a" stroke-width="5" stroke-linecap="round"/>
<path d="M2735.3 1627.2h4.5" stroke="#10145a" stroke-width="5" stroke-linecap="round"/>
<path d="M2735.3 1665.6h4.5" stroke="#10145a" stroke-width="5" stroke-linecap="round"/>
<path d="M2735.3 1703.9h4.5" stroke="#10145a" stroke-width="5" stroke-linecap="round"/>
<path d="M2761.7 1394.1 L2774.4 1394.1 L2774.4 1434.5 L2737.6 1434.5 L2737.6 1473.9" fill="none" stroke="#10145a" stroke-width="1.4"/>
<path d="M2761.7 1394.1 L2761.7 1420 L2737.6 1420 L2737.6 1434.5" fill="none" stroke="#10145a" stroke-width="1.4"/>
<path d="M2849.9 1432.5v6" stroke="#10145a" stroke-width="4.5" stroke-linecap="round"/>
<path d="M2849.9 1737.4v6" stroke="#10145a" stroke-width="4.5" stroke-linecap="round"/>
<path d="M2965.6 1432.5v6" stroke="#10145a" stroke-width="4.5" stroke-linecap="round"/>
<path d="M2965.6 1737.4v6" stroke="#10145a" stroke-width="4.5" stroke-linecap="round"/>
<path d="M2621.8 1743 L2737.6 1743 L2737.6 1703" fill="none" stroke="#10145a" stroke-width="2.6"/>
<path d="M2621.8 1740.5v5" stroke="#10145a" stroke-width="5" stroke-linecap="round"/>
<path d="M2660 1740.5v5" stroke="#10145a" stroke-width="5" stroke-linecap="round"/>
<path d="M2698.5 1740.5v5" stroke="#10145a" stroke-width="5" stroke-linecap="round"/>
<path d="M2737.6 1740.5v5" stroke="#10145a" stroke-width="5" stroke-linecap="round"/>
<path d="M2621.8 2124.6 L2621.8 2238.8 L2737.6 2238.8" fill="none" stroke="#10145a" stroke-width="2.6" stroke-linejoin="miter" stroke-linecap="butt"/>
<path d="M2889.3 2238.8 L3041.5 2238.8" fill="none" stroke="#10145a" stroke-width="2.6"/>
<path d="M2621.2 1780.4h4.5" stroke="#10145a" stroke-width="5" stroke-linecap="round"/>
<path d="M2621.2 1818.7h4.5" stroke="#10145a" stroke-width="5" stroke-linecap="round"/>
<path d="M2621.2 1857.1h4.5" stroke="#10145a" stroke-width="5" stroke-linecap="round"/>
<path d="M2621.2 1895.4h4.5" stroke="#10145a" stroke-width="5" stroke-linecap="round"/>
<path d="M2621.2 1933.7h4.5" stroke="#10145a" stroke-width="5" stroke-linecap="round"/>
<path d="M2621.2 1972.1h4.5" stroke="#10145a" stroke-width="5" stroke-linecap="round"/>
<path d="M2621.2 2010.4h4.5" stroke="#10145a" stroke-width="5" stroke-linecap="round"/>
<path d="M2621.2 2048.7h4.5" stroke="#10145a" stroke-width="5" stroke-linecap="round"/>
<path d="M2621.2 2087h4.5" stroke="#10145a" stroke-width="5" stroke-linecap="round"/>
<path d="M2621.2 2125.4h4.5" stroke="#10145a" stroke-width="5" stroke-linecap="round"/>
<path d="M2621.2 2163.7h4.5" stroke="#10145a" stroke-width="5" stroke-linecap="round"/>
<path d="M2621.2 2202h4.5" stroke="#10145a" stroke-width="5" stroke-linecap="round"/>
<path d="M2621.2 2240.4h4.5" stroke="#10145a" stroke-width="5" stroke-linecap="round"/>
<circle cx="2621.8" cy="2238.8" r="3.2" fill="#10145a"/>
<circle cx="2660" cy="2238.8" r="3.2" fill="#10145a"/>
<circle cx="2698.5" cy="2238.8" r="3.2" fill="#10145a"/>
<circle cx="2736" cy="2238.8" r="3.2" fill="#10145a"/>
<circle cx="2774.2" cy="2238.8" r="3.2" fill="#10145a"/>
<circle cx="2812.5" cy="2238.8" r="3.2" fill="#10145a"/>
<circle cx="2850.8" cy="2238.8" r="3.2" fill="#10145a"/>
<circle cx="2889.3" cy="2238.8" r="3.2" fill="#10145a"/>
<circle cx="2927.7" cy="2238.8" r="3.2" fill="#10145a"/>
<circle cx="2966" cy="2238.8" r="3.2" fill="#10145a"/>
<circle cx="3004.3" cy="2238.8" r="3.2" fill="#10145a"/>
<circle cx="3041.5" cy="2238.8" r="3.2" fill="#10145a"/>
<rect x="2582.3" y="1818" width="39.5" height="38.3" fill="none" stroke="#10145a" stroke-width="1.4"/>
<use href="#wc" x="2602.7" y="1838.5"/>
<path d="M2546 1857 L2621.8 1857" fill="none" stroke="#10145a" stroke-width="2"/>
<rect x="2570" y="1859.4" width="38.4" height="12.2" fill="none" stroke="#999" stroke-width="1"/>
<circle cx="2546" cy="1857" r="3.2" fill="#10145a"/>
<circle cx="2546" cy="1895.4" r="3.2" fill="#10145a"/>
<circle cx="2546" cy="1933" r="3.2" fill="#10145a"/>
<circle cx="2546" cy="1971.3" r="3.2" fill="#10145a"/>
<circle cx="2546" cy="2009.6" r="3.2" fill="#10145a"/>
<circle cx="2546" cy="2048" r="3.2" fill="#10145a"/>
<circle cx="2546" cy="2086.3" r="3.2" fill="#10145a"/>
<circle cx="2546" cy="2124.6" r="3.2" fill="#10145a"/>
<path d="M2546 2124.6 L2621.8 2124.6" fill="none" stroke="#10145a" stroke-width="2"/>
<path d="M2582.3 2124.6 L2582.3 2201.3" fill="none" stroke="#10145a" stroke-width="1.4"/>
<path d="M2597 2124.6 L2597 2163 L2621.8 2163" fill="none" stroke="#10145a" stroke-width="1.4"/>
<use href="#wc" x="2602.7" y="2143.8"/>
<path d="M2621.8 2201.3 L2548.2 2201.3 L2548.2 2317.7 L2582.7 2317.7 L2582.7 2353 L2697.7 2366.4 L2697.7 2238.8" fill="none" stroke="#10145a" stroke-width="1.4"/>
<path d="M2920.8 2238.8 L2920.8 2391.3" fill="none" stroke="#10145a" stroke-width="1.4"/>
<path d="M2927.7 2238.8 L2927.7 2391.3" fill="none" stroke="#10145a" stroke-width="1.4"/>
<path d="M3004.3 2238.8 L3004.3 2400.9 L2887 2386.7" fill="none" stroke="#10145a" stroke-width="1.4"/>
<path d="M2483.8 2341.5L2535.6 2358.7" stroke="#10145a" stroke-width="2.6" stroke-dasharray="11 6" fill="none"/>
<use href="#arV" transform="translate(2808.9,2417.4) scale(1.0,1.0)" fill="#1c2b99"/>
<use href="#arV" transform="translate(2825,2370.2) scale(1.0,-1.0)" fill="#cf1126"/>
<circle cx="2708" cy="1052" r="1.6" fill="#10145a"/>
<circle cx="2708" cy="1089.7" r="1.6" fill="#10145a"/>
<circle cx="2708" cy="1128" r="1.6" fill="#10145a"/>
<circle cx="2708" cy="1166.3" r="1.6" fill="#10145a"/>
<path d="M2514 1281.3 L2632 1281.3" fill="none" stroke="#10145a" stroke-width="1.4"/>
<path d="M3003 154.5 L3050 154.5 L3050 198.5 L3116.5 198.5 L3116.5 477.4" fill="none" stroke="#10145a" stroke-width="4.0" stroke-linejoin="miter" stroke-linecap="butt"/>
<path d="M3116.5 553.8 L3116.5 637.9 L3041.2 637.9" fill="none" stroke="#10145a" stroke-width="4.0" stroke-linejoin="miter" stroke-linecap="butt"/>
<rect x="3076.7" y="236.7" width="39.8" height="40.9" fill="none" stroke="#10145a" stroke-width="2.4"/>
<rect x="3045" y="392.6" width="71.5" height="46.6" fill="none" stroke="#10145a" stroke-width="2.4"/>
<rect x="3043" y="594" width="73.5" height="43.9" fill="none" stroke="#10145a" stroke-width="2.4"/>
<path d="M2771.8 248.1Q2820 190 2886.5 159.5" fill="none" stroke="#10145a" stroke-width="1.4"/>
<rect x="-38" y="-6.5" width="76" height="13" fill="#fff" stroke="#10145a" stroke-width="3.2" transform="translate(2825.3,196.5) rotate(-30)"/>
<circle cx="2860" cy="188" r="3" fill="#10145a"/>
<circle cx="2849.5" cy="192.5" r="3" fill="#10145a"/>
<circle cx="2812" cy="222.5" r="3" fill="#10145a"/>
<path d="M2768 252 L2768 276.8" fill="none" stroke="#10145a" stroke-width="4.0" stroke-linejoin="miter" stroke-linecap="butt"/>
<path d="M2768 353.2 L2768 479.3" fill="none" stroke="#10145a" stroke-width="4.0" stroke-linejoin="miter" stroke-linecap="butt"/>
<path d="M2768 594 L2768 637.9" fill="none" stroke="#10145a" stroke-width="4.0" stroke-linejoin="miter" stroke-linecap="butt"/>
<circle cx="2772.6" cy="252" r="3.2" fill="#10145a"/>
<circle cx="2772.6" cy="276.8" r="3.2" fill="#10145a"/>
<circle cx="2772.6" cy="316.2" r="3.2" fill="#10145a"/>
<circle cx="2772.6" cy="354.4" r="3.2" fill="#10145a"/>
<circle cx="2772.6" cy="393.3" r="3.2" fill="#10145a"/>
<circle cx="2772.6" cy="438.4" r="3.2" fill="#10145a"/>
<circle cx="2772.6" cy="477.4" r="3.2" fill="#10145a"/>
<circle cx="2772.6" cy="516.4" r="3.2" fill="#10145a"/>
<circle cx="2772.6" cy="555.7" r="3.2" fill="#10145a"/>
<circle cx="2772.6" cy="594" r="3.2" fill="#10145a"/>
<circle cx="2772.6" cy="632.9" r="3.2" fill="#10145a"/>
<rect x="2771.8" y="393.3" width="16.1" height="44.7" fill="none" stroke="#10145a" stroke-width="2"/>
<circle cx="2812" cy="632.9" r="3.2" fill="#10145a"/>
<circle cx="2851" cy="632.9" r="3.2" fill="#10145a"/>
<circle cx="2889.1" cy="632.9" r="3.2" fill="#10145a"/>
<circle cx="2928.5" cy="632.9" r="3.2" fill="#10145a"/>
<circle cx="2967.5" cy="632.9" r="3.2" fill="#10145a"/>
<circle cx="3006" cy="632.9" r="3.2" fill="#10145a"/>
<circle cx="3044.3" cy="632.9" r="3.2" fill="#10145a"/>
<circle cx="2812" cy="438.4" r="3.2" fill="#10145a"/>
<circle cx="2889.1" cy="438.4" r="3.2" fill="#10145a"/>
<circle cx="2967.5" cy="438.4" r="3.2" fill="#10145a"/>
<circle cx="2889.1" cy="159.5" r="3.2" fill="#10145a"/>
<circle cx="2928.5" cy="159.5" r="3.2" fill="#10145a"/>
<circle cx="2967.5" cy="159.5" r="3.2" fill="#10145a"/>
<circle cx="3006" cy="159.5" r="3.2" fill="#10145a"/>
<circle cx="3044" cy="163" r="3" fill="#10145a"/>
<circle cx="3093.6" cy="237.8" r="3" fill="#10145a"/>
<circle cx="3093.6" cy="276.8" r="3" fill="#10145a"/>
<circle cx="3093.6" cy="315" r="3" fill="#10145a"/>
<circle cx="3093.6" cy="354.4" r="3" fill="#10145a"/>
<circle cx="3093.6" cy="393.3" r="3" fill="#10145a"/>
<circle cx="3093.6" cy="438.4" r="3" fill="#10145a"/>
<circle cx="3093.6" cy="477.4" r="3" fill="#10145a"/>
<circle cx="3093.6" cy="516.4" r="3" fill="#10145a"/>
<circle cx="3093.6" cy="555.7" r="3" fill="#10145a"/>
<circle cx="3093.6" cy="594" r="3" fill="#10145a"/>
<circle cx="3045" cy="198.5" r="3" fill="#10145a"/>
<circle cx="3045" cy="393.3" r="3" fill="#10145a"/>
<circle cx="3045" cy="438.4" r="3" fill="#10145a"/>
<circle cx="3045" cy="594" r="3" fill="#10145a"/>
<circle cx="3045" cy="632.9" r="3" fill="#10145a"/>
<use href="#arV" transform="translate(2940.7,161) scale(1.1,1.1)" fill="#1c2b99"/>
<use href="#arV" transform="translate(2957.9,107.5) scale(1.05,-1.05)" fill="#cf1126"/>
<path d="M2772.6 640V730M3045 640V675" stroke="#10145a" stroke-width="2.4" stroke-dasharray="14 5 3 5" fill="none"/>
<path d="M3116.5 480V552" stroke="#10145a" stroke-width="1"/>
<text class="w" x="460.6" y="405.3">健身</text>
<text class="w" x="460.6" y="435.8">器材</text>
<text class="w" x="460.6" y="466.2">配件</text>
<text class="w" x="585.8" y="390.7">小型</text>
<text class="w" x="585.8" y="421.7">训练</text>
<text class="w" x="585.8" y="452.7">健身</text>
<text class="w" x="585.8" y="483.7">器材</text>
<text class="w" x="502.6" y="915.7">小型训练</text>
<text class="w" x="502.6" y="945.6">健身器材</text>
<text class="w" x="502.6" y="1107.7">小型训练</text>
<text class="w" x="502.6" y="1139.2">健身器材</text>
<text class="w" x="472.2" y="1412.4">家用健身器材整机</text>
<text class="w" x="472.2" y="1772.3">家用健身器材整机</text>
<text class="w" x="472.2" y="2066.8">家用健身器材整机</text>
<text class="w" x="798.8" y="1442.8">家</text>
<text class="w" x="798.8" y="1465.5">用</text>
<text class="w" x="798.8" y="1488.2">健</text>
<text class="w" x="798.8" y="1511">身</text>
<text class="w" x="798.8" y="1533.7">器</text>
<text class="w" x="798.8" y="1556.4">材</text>
<text class="w" x="798.8" y="1579.1">整</text>
<text class="w" x="798.8" y="1601.8">机</text>
<text class="w" x="822.9" y="1999.8">家</text>
<text class="w" x="822.9" y="2022.2">用</text>
<text class="w" x="822.9" y="2044.7">健</text>
<text class="w" x="822.9" y="2067.1">身</text>
<text class="w" x="822.9" y="2089.5">器</text>
<text class="w" x="822.9" y="2112">材</text>
<text class="w" x="822.9" y="2134.4">整</text>
<text class="w" x="822.9" y="2156.8">机</text>
<text class="w" x="938.8" y="1106.9">按摩及家庭保健产品</text>
<text class="w" x="988.8" y="1239.2">家用健身器材整机</text>
<text class="w" x="1237.4" y="997.7">健身器材配件</text>
<text class="w" x="1296" y="1110">商用健身器材</text>
<text class="w" x="1244.9" y="1211.2">康复监测</text>
<text class="w" x="1244.9" y="1241.8">智能健身设备/健身房配套设施</text>
<text class="w" x="1700.9" y="1110">商用健身器材</text>
<text class="w" x="2058.5" y="1110">商用健身器材</text>
<text class="w" x="2363" y="1095.4">全民健身室外路径</text>
<text class="w" x="2386.2" y="1125.3">儿童游乐设施</text>
<text class="w" transform="rotate(-4.5,1275.6,1362.8)" x="1206" y="1371.6">商用健身器材</text>
<text class="w" transform="rotate(4.5,2224.8,1359.7)" x="2155.2" y="1368.5">商用健身器材</text>
<text class="w" x="996.2" y="2028.9">小型训练</text>
<text class="w" x="996.2" y="2058.8">健身器材</text>
<text class="w" x="1175.8" y="2026.2">轮滑</text>
<text class="w" x="1175.8" y="2056.9">滑板</text>
<text class="w" x="1152.6" y="2086.4">体育绳网</text>
<text class="w" x="1376.9" y="2030">乒乓球</text>
<text class="w" x="1365.3" y="2060.7">足篮排球</text>
<text class="w" x="2109.5" y="2043.9">鞋服</text>
<text class="w" x="2086.3" y="2074.6">户外休闲</text>
<text class="w" x="2290.7" y="2011.1">政府展区</text>
<text class="w" x="2290.7" y="2041.9">网羽运动</text>
<text class="w" x="2313.9" y="2072.7">护具</text>
<text class="w" x="2290.7" y="2103.5">武术搏击</text>
<text class="w" x="2573.8" y="1968.6">政</text>
<text class="w" x="2573.8" y="1999">府</text>
<text class="w" x="2573.8" y="2029.4">展</text>
<text class="w" x="2573.8" y="2059.8">区</text>
<text class="w" x="2887.8" y="312.3">体育器材</text>
<text class="w" x="2892.7" y="511">泳池及SPA</text>
<text class="w" x="2846.9" y="541.6">围网/护栏/笼式结构</text>
<text class="w" x="2902.4" y="572.2">体育器材</text>
<text class="w" x="2869.8" y="948.8">体育器材</text>
<text class="w" x="2839.7" y="1200.2">体育照明系统</text>
<text class="w" x="2816.5" y="1230.9">装配式建筑及气膜</text>
<text class="w" x="2816.5" y="1261.5">运动场地配套设施</text>
<text class="w" x="2839.7" y="1292.2">及智能化技术</text>
<text class="w" x="2862.9" y="1322.9">看台座椅</text>
<text class="w" x="2804.9" y="1353.5">场馆一体化解决方案</text>
<text class="w" x="2854.6" y="1580.4">人造草</text>
<text class="w" x="2703.1" y="2001.2">弹性地面及其它地面材料</text>
<text class="w" x="2754.7" y="2319.6">运动木地板</text>
<text class="h" x="287.7" y="436.7" font-size="73" textLength="69.7" lengthAdjust="spacingAndGlyphs">B8</text>
<text class="t" x="341.5" y="431.4">展厅</text>
<text class="h" x="290" y="933.7" font-size="70" textLength="60.8" lengthAdjust="spacingAndGlyphs">B7</text>
<text class="t" x="341.5" y="929.9">展厅</text>
<text class="h" x="289.7" y="1122.7" font-size="71" textLength="69.3" lengthAdjust="spacingAndGlyphs">B6</text>
<text class="t" x="341.5" y="1117.9">展厅</text>
<text class="h" x="289.8" y="1437.7" font-size="71" textLength="67.2" lengthAdjust="spacingAndGlyphs">B5</text>
<text class="t" x="341.5" y="1432.9">展厅</text>
<text class="h" x="289.9" y="1794.2" font-size="70" textLength="64" lengthAdjust="spacingAndGlyphs">B4</text>
<text class="t" x="341.5" y="1788.9">展厅</text>
<text class="h" x="289.8" y="2087.7" font-size="71" textLength="67.2" lengthAdjust="spacingAndGlyphs">B3</text>
<text class="t" x="341.5" y="2082.9">展厅</text>
<text class="h" x="1036.8" y="2354" font-size="73" textLength="66.3" lengthAdjust="spacingAndGlyphs">B2</text>
<text class="t" x="1089" y="2349.4">展厅</text>
<text class="h" x="1364.3" y="2355.9" font-size="72" textLength="59.8" lengthAdjust="spacingAndGlyphs">B1</text>
<text class="t" x="1417" y="2351.2">展厅</text>
<text class="h" x="1011.7" y="856.7" font-size="71" textLength="70.9" lengthAdjust="spacingAndGlyphs">C5</text>
<text class="t" x="1066" y="851.9">展厅</text>
<text class="h" x="1359.4" y="856.7" font-size="71" textLength="66.5" lengthAdjust="spacingAndGlyphs">C4</text>
<text class="t" x="1412" y="851.9">展厅</text>
<text class="h" x="1710.2" y="832.9" font-size="71" textLength="70.5" lengthAdjust="spacingAndGlyphs">C3</text>
<text class="t" x="1763.5" y="828.2">展厅</text>
<text class="h" x="2059" y="856.7" font-size="71" textLength="69.2" lengthAdjust="spacingAndGlyphs">C2</text>
<text class="t" x="2113" y="851.9">展厅</text>
<text class="h" x="2410.4" y="856.7" font-size="71" textLength="61.5" lengthAdjust="spacingAndGlyphs">C1</text>
<text class="t" x="2464" y="851.9">展厅</text>
<text class="h" x="3119.5" y="357.1" font-size="71" textLength="66.9" lengthAdjust="spacingAndGlyphs">A8</text>
<text class="t" x="3174" y="352.4">展厅</text>
<text class="h" x="3116.7" y="542.4" font-size="71" textLength="60" lengthAdjust="spacingAndGlyphs">A7</text>
<text class="t" x="3169" y="537.9">展厅</text>
<text class="h" x="3047.2" y="878.8" font-size="71" textLength="67.2" lengthAdjust="spacingAndGlyphs">A6</text>
<text class="t" x="3101.7" y="873.4">展厅</text>
<text class="h" x="3047.2" y="1232.5" font-size="71" textLength="67.2" lengthAdjust="spacingAndGlyphs">A5</text>
<text class="t" x="3101.7" y="1227.9">展厅</text>
<text class="h" x="3047.2" y="1578.6" font-size="70" textLength="67.2" lengthAdjust="spacingAndGlyphs">A4</text>
<text class="t" x="3101.7" y="1573.9">展厅</text>
<text class="h" x="3047.2" y="2083.7" font-size="71" textLength="66.4" lengthAdjust="spacingAndGlyphs">A3</text>
<text class="t" x="3101.7" y="2078.9">展厅</text>
<text class="h" x="2074.6" y="2341.8" font-size="73" textLength="61.1" lengthAdjust="spacingAndGlyphs">A1</text>
<text class="t" x="2130" y="2336.4">展厅</text>
<text class="h" x="2307" y="2350.1" font-size="71" textLength="66.6" lengthAdjust="spacingAndGlyphs">A2</text>
<text class="t" x="2362" y="2344.9">展厅</text>
<text x="1586.5" y="396" font-size="85.6" letter-spacing="0.77" fill="#d9121f" stroke="#d9121f" stroke-width="0.9">中国国际体育用品博览会</text>
<text x="1592" y="446.6" font-size="39.2" font-weight="700" fill="#d9121f" textLength="936.5" lengthAdjust="spacingAndGlyphs">CHINA INTERNATIONAL SPORTING GOODS SHOW</text>
<text x="1566.5" y="573.1" font-size="51.5" font-weight="300" letter-spacing="-1.8" fill="#3a3a3a">厦门国际会展中心</text>
<text x="1701.8" y="1678.4" font-size="44.5" font-weight="700" fill="#1f2f8f">前广场</text>
<text x="1728" y="2043.6" font-size="42" fill="#8f2226" textLength="112.6" lengthAdjust="spacingAndGlyphs">50X80</text>
<g transform="translate(2597.3,1561.6) rotate(90)">
<text x="-50.5" y="16" font-size="42" fill="#8f2226" textLength="102.4" lengthAdjust="spacingAndGlyphs">55X15</text>
</g>
<path d="M1229.5 959 L1229.5 1017.3 L1384.4 1017.3 L1384.4 959" fill="none" stroke="#fff" stroke-width="1.6"/>
<path d="M1234.9 1257.2 L1234.9 1162.5 L1346.4 1162.5 L1346.4 1204.7 L1568.3 1204.7" fill="none" stroke="#fff" stroke-width="1.6"/>
<path d="M981.5 1257.2 L981.5 1199.7 L1179.7 1199.7" fill="none" stroke="#fff" stroke-width="1.6"/>
<g transform="translate(965,320) scale(0.07704)" fill="#d9121f"><path d="M880 135L905 150L960 122L1050 200L1085 290L1100 400L330 940L900 990L1180 930L1390 958L1350 1000L1400 1030L1330 1060L1370 1085L1290 1112L800 1200L480 1215L230 1110L140 960L95 860L160 800Z"/><path d="M905 548L960 528L1035 600L1018 650L960 790L900 985L800 1200L745 1400L700 1500L560 1510L430 1492L520 1240L620 1000L770 760Z"/><path fill-rule="evenodd" d="M1530 340C1790 340 1985 530 1975 790C1965 1040 1780 1200 1520 1200C1260 1200 1075 1020 1075 770C1075 520 1270 340 1530 340ZM1490 480C1310 480 1180 620 1180 800C1180 990 1310 1130 1490 1130C1670 1130 1790 990 1790 810C1790 620 1670 480 1490 480Z"/><path d="M1450 385C1560 330 1700 350 1800 420L1570 310L1640 370C1580 360 1510 365 1450 385ZM660 1565C760 1400 980 1270 1300 1215C1500 1185 1700 1190 1905 1290C1700 1230 1500 1230 1300 1265C1040 1310 820 1430 660 1565Z"/><path d="M985 800L1005 760L1015 860L1035 985L935 985Z" fill="#fff"/><path d="M990 840L1002 800L1008 900L1018 975L975 975Z"/></g>
<text x="1109.5" y="354.5" font-size="13.5" font-weight="700" font-style="italic" fill="#d9121f">th</text>
<text x="1035.6" y="437.9" font-size="14" font-weight="700" fill="#d9121f" textLength="71" lengthAdjust="spacingAndGlyphs">1993-2022</text>
<rect x="1163.3" y="330.2" width="1.9" height="106.1" fill="#d9121f"/>
<g transform="translate(1190,320) scale(0.077)" fill="#d9121f"><path d="M545 130L1090 130C940 260 800 430 750 660C720 760 700 860 650 950C560 1080 460 1300 450 1520L140 1520C180 1280 320 1010 540 830C450 640 440 360 545 130Z"/><path d="M1340 130L1620 130C1610 400 1480 650 1290 820C1370 1000 1380 1280 1290 1520L700 1520C880 1360 1000 1130 1050 900C1150 760 1300 560 1340 130Z"/><ellipse cx="985" cy="825" rx="300" ry="190" transform="rotate(-8 985 825)"/><ellipse cx="890" cy="822" rx="190" ry="118" transform="rotate(-36 890 822)" fill="#fff"/></g>
<text transform="translate(1302,398.4) skewX(-18)" x="0" y="0" font-size="18" font-weight="700" fill="#d9121f" textLength="92.5" lengthAdjust="spacingAndGlyphs">CHINA</text>
<text transform="translate(1302,420.4) skewX(-18)" x="0" y="0" font-size="18" font-weight="700" fill="#d9121f" textLength="220" lengthAdjust="spacingAndGlyphs">SPORT SHOW</text>
</svg></body></html>
